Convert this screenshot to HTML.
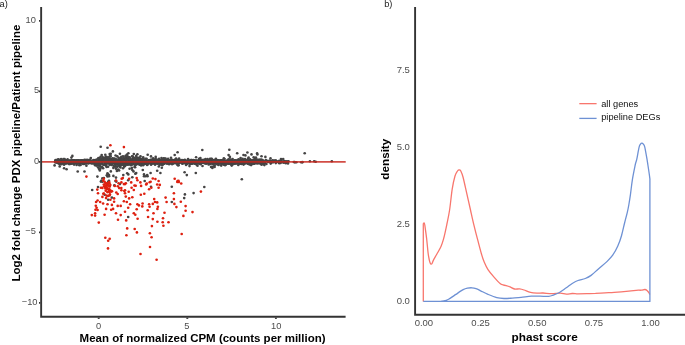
<!DOCTYPE html>
<html lang="en"><head><meta charset="utf-8"><title>Figure</title>
<style>html,body{margin:0;padding:0;background:#fff}body{width:685px;height:345px;overflow:hidden}svg{will-change:transform;opacity:.999}</style></head>
<body>
<svg width="685" height="345" viewBox="0 0 685 345" style="display:block;font-family:'Liberation Sans',Arial,sans-serif">
<rect width="685" height="345" fill="#fff"/>
<g fill="#454444"><circle cx="55.2" cy="161.8" r="1.32"/><circle cx="55.2" cy="160.9" r="1.32"/><circle cx="55.4" cy="162.2" r="1.32"/><circle cx="55.5" cy="161.3" r="1.32"/><circle cx="55.3" cy="162.3" r="1.32"/><circle cx="55.4" cy="161.8" r="1.32"/><circle cx="55.6" cy="160.1" r="1.32"/><circle cx="56.2" cy="161.3" r="1.32"/><circle cx="56.4" cy="161.6" r="1.32"/><circle cx="55.9" cy="161.8" r="1.32"/><circle cx="56.4" cy="161.2" r="1.32"/><circle cx="56.6" cy="161.6" r="1.32"/><circle cx="56.9" cy="162.5" r="1.32"/><circle cx="56.9" cy="161.5" r="1.32"/><circle cx="56.9" cy="160.5" r="1.32"/><circle cx="56.8" cy="162.4" r="1.32"/><circle cx="57.5" cy="160.8" r="1.32"/><circle cx="57.6" cy="160.7" r="1.32"/><circle cx="57.5" cy="162.2" r="1.32"/><circle cx="57.6" cy="159.5" r="1.32"/><circle cx="58.4" cy="163.0" r="1.32"/><circle cx="58.1" cy="162.4" r="1.32"/><circle cx="58.0" cy="161.5" r="1.32"/><circle cx="58.4" cy="161.5" r="1.32"/><circle cx="58.6" cy="163.4" r="1.32"/><circle cx="58.7" cy="160.6" r="1.32"/><circle cx="58.6" cy="159.3" r="1.32"/><circle cx="59.2" cy="163.3" r="1.32"/><circle cx="58.9" cy="160.5" r="1.32"/><circle cx="59.2" cy="161.5" r="1.32"/><circle cx="59.6" cy="162.2" r="1.32"/><circle cx="59.6" cy="160.6" r="1.32"/><circle cx="59.6" cy="163.4" r="1.32"/><circle cx="60.2" cy="160.7" r="1.32"/><circle cx="60.1" cy="162.6" r="1.32"/><circle cx="60.1" cy="162.5" r="1.32"/><circle cx="60.1" cy="163.9" r="1.32"/><circle cx="60.3" cy="162.0" r="1.32"/><circle cx="60.9" cy="161.9" r="1.32"/><circle cx="60.7" cy="163.0" r="1.32"/><circle cx="60.9" cy="161.4" r="1.32"/><circle cx="61.1" cy="162.7" r="1.32"/><circle cx="61.0" cy="162.8" r="1.32"/><circle cx="61.1" cy="159.0" r="1.32"/><circle cx="61.7" cy="162.9" r="1.32"/><circle cx="61.6" cy="161.0" r="1.32"/><circle cx="61.3" cy="161.4" r="1.32"/><circle cx="61.6" cy="164.3" r="1.32"/><circle cx="62.2" cy="160.9" r="1.32"/><circle cx="62.3" cy="161.3" r="1.32"/><circle cx="62.0" cy="162.6" r="1.32"/><circle cx="62.4" cy="160.5" r="1.32"/><circle cx="62.5" cy="161.8" r="1.32"/><circle cx="62.9" cy="161.8" r="1.32"/><circle cx="63.3" cy="160.2" r="1.32"/><circle cx="63.2" cy="161.3" r="1.32"/><circle cx="62.9" cy="162.9" r="1.32"/><circle cx="63.4" cy="162.5" r="1.32"/><circle cx="63.6" cy="163.1" r="1.32"/><circle cx="63.4" cy="162.3" r="1.32"/><circle cx="64.1" cy="162.6" r="1.32"/><circle cx="63.9" cy="162.6" r="1.32"/><circle cx="64.4" cy="160.7" r="1.32"/><circle cx="64.1" cy="164.7" r="1.32"/><circle cx="64.8" cy="160.7" r="1.32"/><circle cx="64.7" cy="163.4" r="1.32"/><circle cx="64.6" cy="161.4" r="1.32"/><circle cx="64.6" cy="159.0" r="1.32"/><circle cx="64.9" cy="162.6" r="1.32"/><circle cx="64.9" cy="162.7" r="1.32"/><circle cx="64.9" cy="163.4" r="1.32"/><circle cx="65.4" cy="160.3" r="1.32"/><circle cx="65.8" cy="161.9" r="1.32"/><circle cx="65.6" cy="161.3" r="1.32"/><circle cx="66.2" cy="160.4" r="1.32"/><circle cx="66.2" cy="163.2" r="1.32"/><circle cx="66.1" cy="162.9" r="1.32"/><circle cx="66.4" cy="163.1" r="1.32"/><circle cx="66.6" cy="160.7" r="1.32"/><circle cx="66.8" cy="163.1" r="1.32"/><circle cx="66.9" cy="162.8" r="1.32"/><circle cx="67.2" cy="160.7" r="1.32"/><circle cx="66.8" cy="160.6" r="1.32"/><circle cx="67.6" cy="162.0" r="1.32"/><circle cx="67.8" cy="162.8" r="1.32"/><circle cx="67.4" cy="160.4" r="1.32"/><circle cx="67.6" cy="159.3" r="1.32"/><circle cx="68.3" cy="162.1" r="1.32"/><circle cx="68.1" cy="163.2" r="1.32"/><circle cx="68.1" cy="162.2" r="1.32"/><circle cx="68.6" cy="162.5" r="1.32"/><circle cx="68.6" cy="162.0" r="1.32"/><circle cx="68.7" cy="163.3" r="1.32"/><circle cx="69.0" cy="163.3" r="1.32"/><circle cx="69.4" cy="162.0" r="1.32"/><circle cx="68.9" cy="163.0" r="1.32"/><circle cx="69.1" cy="164.1" r="1.32"/><circle cx="69.6" cy="162.4" r="1.32"/><circle cx="69.5" cy="160.9" r="1.32"/><circle cx="69.8" cy="160.6" r="1.32"/><circle cx="70.0" cy="162.3" r="1.32"/><circle cx="69.9" cy="161.0" r="1.32"/><circle cx="70.2" cy="161.7" r="1.32"/><circle cx="70.1" cy="163.9" r="1.32"/><circle cx="70.4" cy="162.4" r="1.32"/><circle cx="70.9" cy="162.5" r="1.32"/><circle cx="70.6" cy="161.5" r="1.32"/><circle cx="71.0" cy="160.5" r="1.32"/><circle cx="71.1" cy="161.3" r="1.32"/><circle cx="71.0" cy="162.5" r="1.32"/><circle cx="71.9" cy="161.2" r="1.32"/><circle cx="71.9" cy="160.6" r="1.32"/><circle cx="71.8" cy="160.9" r="1.32"/><circle cx="71.6" cy="163.8" r="1.32"/><circle cx="72.0" cy="162.8" r="1.32"/><circle cx="72.1" cy="160.6" r="1.32"/><circle cx="72.3" cy="163.2" r="1.32"/><circle cx="72.9" cy="160.7" r="1.32"/><circle cx="72.7" cy="162.1" r="1.32"/><circle cx="72.3" cy="160.5" r="1.32"/><circle cx="72.8" cy="161.6" r="1.32"/><circle cx="73.2" cy="163.3" r="1.32"/><circle cx="72.9" cy="162.9" r="1.32"/><circle cx="73.8" cy="160.4" r="1.32"/><circle cx="73.5" cy="161.7" r="1.32"/><circle cx="73.9" cy="162.0" r="1.32"/><circle cx="74.1" cy="160.6" r="1.32"/><circle cx="73.9" cy="161.0" r="1.32"/><circle cx="73.8" cy="160.7" r="1.32"/><circle cx="74.1" cy="164.6" r="1.32"/><circle cx="74.4" cy="162.0" r="1.32"/><circle cx="74.7" cy="161.7" r="1.32"/><circle cx="74.8" cy="161.1" r="1.32"/><circle cx="74.8" cy="160.3" r="1.32"/><circle cx="75.4" cy="161.9" r="1.32"/><circle cx="74.9" cy="161.9" r="1.32"/><circle cx="75.7" cy="162.4" r="1.32"/><circle cx="75.6" cy="162.4" r="1.32"/><circle cx="75.9" cy="163.2" r="1.32"/><circle cx="75.9" cy="160.9" r="1.32"/><circle cx="76.3" cy="160.8" r="1.32"/><circle cx="75.9" cy="162.6" r="1.32"/><circle cx="76.8" cy="163.5" r="1.32"/><circle cx="76.7" cy="160.2" r="1.32"/><circle cx="76.6" cy="163.1" r="1.32"/><circle cx="76.6" cy="164.9" r="1.32"/><circle cx="77.0" cy="162.4" r="1.32"/><circle cx="77.0" cy="161.0" r="1.32"/><circle cx="76.9" cy="161.7" r="1.32"/><circle cx="77.9" cy="161.0" r="1.32"/><circle cx="77.6" cy="163.5" r="1.32"/><circle cx="77.9" cy="161.0" r="1.32"/><circle cx="77.8" cy="161.4" r="1.32"/><circle cx="78.1" cy="161.4" r="1.32"/><circle cx="77.9" cy="161.9" r="1.32"/><circle cx="78.5" cy="160.2" r="1.32"/><circle cx="78.5" cy="160.4" r="1.32"/><circle cx="78.3" cy="160.3" r="1.32"/><circle cx="79.2" cy="160.9" r="1.32"/><circle cx="79.3" cy="162.0" r="1.32"/><circle cx="79.2" cy="162.4" r="1.32"/><circle cx="79.5" cy="161.5" r="1.32"/><circle cx="79.4" cy="163.5" r="1.32"/><circle cx="79.7" cy="162.6" r="1.32"/><circle cx="79.6" cy="164.7" r="1.32"/><circle cx="79.9" cy="162.9" r="1.32"/><circle cx="80.1" cy="161.9" r="1.32"/><circle cx="80.3" cy="163.0" r="1.32"/><circle cx="80.8" cy="162.1" r="1.32"/><circle cx="80.7" cy="162.5" r="1.32"/><circle cx="80.3" cy="160.9" r="1.32"/><circle cx="80.6" cy="165.0" r="1.32"/><circle cx="81.1" cy="161.4" r="1.32"/><circle cx="80.8" cy="160.3" r="1.32"/><circle cx="80.9" cy="162.0" r="1.32"/><circle cx="81.3" cy="161.7" r="1.32"/><circle cx="81.8" cy="163.3" r="1.32"/><circle cx="81.6" cy="160.4" r="1.32"/><circle cx="82.3" cy="161.8" r="1.32"/><circle cx="81.9" cy="163.0" r="1.32"/><circle cx="81.9" cy="162.7" r="1.32"/><circle cx="82.8" cy="161.7" r="1.32"/><circle cx="82.8" cy="160.4" r="1.32"/><circle cx="82.3" cy="161.1" r="1.32"/><circle cx="83.2" cy="160.8" r="1.32"/><circle cx="83.2" cy="161.3" r="1.32"/><circle cx="83.2" cy="162.5" r="1.32"/><circle cx="83.1" cy="163.9" r="1.32"/><circle cx="83.7" cy="161.0" r="1.32"/><circle cx="83.7" cy="162.5" r="1.32"/><circle cx="83.6" cy="161.1" r="1.32"/><circle cx="83.9" cy="161.7" r="1.32"/><circle cx="83.9" cy="163.2" r="1.32"/><circle cx="84.4" cy="163.5" r="1.32"/><circle cx="84.1" cy="163.9" r="1.32"/><circle cx="84.9" cy="161.9" r="1.32"/><circle cx="84.5" cy="163.6" r="1.32"/><circle cx="84.9" cy="163.3" r="1.32"/><circle cx="84.6" cy="159.7" r="1.32"/><circle cx="85.4" cy="161.9" r="1.32"/><circle cx="85.3" cy="160.6" r="1.32"/><circle cx="85.3" cy="161.9" r="1.32"/><circle cx="85.8" cy="160.9" r="1.32"/><circle cx="85.3" cy="161.8" r="1.32"/><circle cx="85.6" cy="160.1" r="1.32"/><circle cx="85.9" cy="161.2" r="1.32"/><circle cx="86.0" cy="161.3" r="1.32"/><circle cx="85.8" cy="163.0" r="1.32"/><circle cx="86.4" cy="163.0" r="1.32"/><circle cx="86.7" cy="163.3" r="1.32"/><circle cx="86.5" cy="163.3" r="1.32"/><circle cx="87.4" cy="161.5" r="1.32"/><circle cx="87.0" cy="162.2" r="1.32"/><circle cx="87.0" cy="161.6" r="1.32"/><circle cx="87.1" cy="159.8" r="1.32"/><circle cx="87.7" cy="162.4" r="1.32"/><circle cx="87.9" cy="160.6" r="1.32"/><circle cx="87.5" cy="161.6" r="1.32"/><circle cx="88.1" cy="162.9" r="1.32"/><circle cx="88.3" cy="160.2" r="1.32"/><circle cx="88.3" cy="161.5" r="1.32"/><circle cx="88.3" cy="160.8" r="1.32"/><circle cx="88.5" cy="163.4" r="1.32"/><circle cx="88.4" cy="162.3" r="1.32"/><circle cx="89.3" cy="161.8" r="1.32"/><circle cx="88.9" cy="162.0" r="1.32"/><circle cx="89.0" cy="161.5" r="1.32"/><circle cx="89.7" cy="162.7" r="1.32"/><circle cx="89.4" cy="161.5" r="1.32"/><circle cx="89.7" cy="161.8" r="1.32"/><circle cx="89.6" cy="159.8" r="1.32"/><circle cx="90.3" cy="161.9" r="1.32"/><circle cx="90.1" cy="162.0" r="1.32"/><circle cx="90.3" cy="161.3" r="1.32"/><circle cx="90.4" cy="162.0" r="1.32"/><circle cx="90.6" cy="160.7" r="1.32"/><circle cx="90.5" cy="161.2" r="1.32"/><circle cx="90.8" cy="160.8" r="1.32"/><circle cx="91.0" cy="163.2" r="1.32"/><circle cx="90.9" cy="162.7" r="1.32"/><circle cx="91.6" cy="162.7" r="1.32"/><circle cx="91.5" cy="162.1" r="1.32"/><circle cx="91.6" cy="162.5" r="1.32"/><circle cx="91.9" cy="163.1" r="1.32"/><circle cx="92.0" cy="163.3" r="1.32"/><circle cx="92.1" cy="162.4" r="1.32"/><circle cx="92.9" cy="163.0" r="1.32"/><circle cx="92.6" cy="160.5" r="1.32"/><circle cx="92.8" cy="162.8" r="1.32"/><circle cx="92.8" cy="161.8" r="1.32"/><circle cx="93.4" cy="163.4" r="1.32"/><circle cx="93.1" cy="161.9" r="1.32"/><circle cx="93.4" cy="162.9" r="1.32"/><circle cx="93.9" cy="160.6" r="1.32"/><circle cx="93.8" cy="160.4" r="1.32"/><circle cx="94.3" cy="163.1" r="1.32"/><circle cx="94.3" cy="160.4" r="1.32"/><circle cx="93.9" cy="160.1" r="1.32"/><circle cx="94.7" cy="160.2" r="1.32"/><circle cx="94.7" cy="163.5" r="1.32"/><circle cx="94.6" cy="162.0" r="1.32"/><circle cx="95.0" cy="160.4" r="1.32"/><circle cx="94.9" cy="163.5" r="1.32"/><circle cx="95.3" cy="161.0" r="1.32"/><circle cx="95.1" cy="165.2" r="1.32"/><circle cx="95.5" cy="160.9" r="1.32"/><circle cx="95.4" cy="163.3" r="1.32"/><circle cx="95.6" cy="162.0" r="1.32"/><circle cx="95.6" cy="165.0" r="1.32"/><circle cx="95.8" cy="161.0" r="1.32"/><circle cx="96.2" cy="161.8" r="1.32"/><circle cx="96.0" cy="161.5" r="1.32"/><circle cx="96.4" cy="164.0" r="1.32"/><circle cx="96.5" cy="159.5" r="1.32"/><circle cx="96.7" cy="161.4" r="1.32"/><circle cx="96.6" cy="165.6" r="1.32"/><circle cx="96.9" cy="161.9" r="1.32"/><circle cx="97.0" cy="164.5" r="1.32"/><circle cx="96.9" cy="163.6" r="1.32"/><circle cx="97.1" cy="165.0" r="1.32"/><circle cx="97.7" cy="162.6" r="1.32"/><circle cx="97.6" cy="164.2" r="1.32"/><circle cx="97.3" cy="164.3" r="1.32"/><circle cx="97.8" cy="164.6" r="1.32"/><circle cx="98.2" cy="158.8" r="1.32"/><circle cx="98.2" cy="161.3" r="1.32"/><circle cx="98.1" cy="167.2" r="1.32"/><circle cx="98.7" cy="164.3" r="1.32"/><circle cx="98.9" cy="165.0" r="1.32"/><circle cx="98.4" cy="160.8" r="1.32"/><circle cx="98.8" cy="163.4" r="1.32"/><circle cx="99.0" cy="162.9" r="1.32"/><circle cx="99.0" cy="161.0" r="1.32"/><circle cx="99.1" cy="158.3" r="1.32"/><circle cx="99.6" cy="159.2" r="1.32"/><circle cx="99.6" cy="164.3" r="1.32"/><circle cx="99.5" cy="163.5" r="1.32"/><circle cx="100.3" cy="160.6" r="1.32"/><circle cx="100.2" cy="159.2" r="1.32"/><circle cx="100.1" cy="159.9" r="1.32"/><circle cx="100.1" cy="166.1" r="1.32"/><circle cx="100.3" cy="164.4" r="1.32"/><circle cx="100.8" cy="161.3" r="1.32"/><circle cx="100.3" cy="163.6" r="1.32"/><circle cx="100.6" cy="156.7" r="1.32"/><circle cx="100.9" cy="159.0" r="1.32"/><circle cx="101.2" cy="159.0" r="1.32"/><circle cx="101.0" cy="161.0" r="1.32"/><circle cx="101.7" cy="158.9" r="1.32"/><circle cx="101.9" cy="163.1" r="1.32"/><circle cx="101.7" cy="160.5" r="1.32"/><circle cx="102.4" cy="163.8" r="1.32"/><circle cx="102.3" cy="159.1" r="1.32"/><circle cx="102.2" cy="159.3" r="1.32"/><circle cx="102.1" cy="167.0" r="1.32"/><circle cx="102.8" cy="164.5" r="1.32"/><circle cx="102.6" cy="159.5" r="1.32"/><circle cx="102.9" cy="158.7" r="1.32"/><circle cx="102.6" cy="157.1" r="1.32"/><circle cx="103.0" cy="160.7" r="1.32"/><circle cx="103.3" cy="161.0" r="1.32"/><circle cx="102.9" cy="159.1" r="1.32"/><circle cx="103.3" cy="160.2" r="1.32"/><circle cx="103.6" cy="158.9" r="1.32"/><circle cx="103.9" cy="160.7" r="1.32"/><circle cx="104.0" cy="165.0" r="1.32"/><circle cx="103.9" cy="159.2" r="1.32"/><circle cx="104.2" cy="161.8" r="1.32"/><circle cx="104.1" cy="158.1" r="1.32"/><circle cx="104.8" cy="161.6" r="1.32"/><circle cx="104.6" cy="160.1" r="1.32"/><circle cx="104.8" cy="163.6" r="1.32"/><circle cx="105.0" cy="160.5" r="1.32"/><circle cx="105.0" cy="160.4" r="1.32"/><circle cx="105.1" cy="160.3" r="1.32"/><circle cx="105.1" cy="158.1" r="1.32"/><circle cx="105.6" cy="164.3" r="1.32"/><circle cx="105.5" cy="160.7" r="1.32"/><circle cx="105.6" cy="165.0" r="1.32"/><circle cx="105.6" cy="157.0" r="1.32"/><circle cx="105.9" cy="165.0" r="1.32"/><circle cx="106.3" cy="161.7" r="1.32"/><circle cx="106.3" cy="164.0" r="1.32"/><circle cx="106.1" cy="165.8" r="1.32"/><circle cx="106.7" cy="159.0" r="1.32"/><circle cx="106.4" cy="164.0" r="1.32"/><circle cx="106.6" cy="159.1" r="1.32"/><circle cx="106.6" cy="167.0" r="1.32"/><circle cx="106.8" cy="162.9" r="1.32"/><circle cx="107.2" cy="162.7" r="1.32"/><circle cx="106.8" cy="160.9" r="1.32"/><circle cx="107.1" cy="158.0" r="1.32"/><circle cx="107.7" cy="160.3" r="1.32"/><circle cx="107.4" cy="162.8" r="1.32"/><circle cx="107.5" cy="158.7" r="1.32"/><circle cx="108.0" cy="159.8" r="1.32"/><circle cx="108.3" cy="159.9" r="1.32"/><circle cx="107.8" cy="162.2" r="1.32"/><circle cx="108.1" cy="166.7" r="1.32"/><circle cx="108.6" cy="159.6" r="1.32"/><circle cx="108.5" cy="162.8" r="1.32"/><circle cx="108.9" cy="160.4" r="1.32"/><circle cx="108.8" cy="161.3" r="1.32"/><circle cx="109.3" cy="163.4" r="1.32"/><circle cx="108.8" cy="161.3" r="1.32"/><circle cx="109.7" cy="163.8" r="1.32"/><circle cx="109.5" cy="161.1" r="1.32"/><circle cx="109.6" cy="164.7" r="1.32"/><circle cx="109.6" cy="156.6" r="1.32"/><circle cx="110.3" cy="161.2" r="1.32"/><circle cx="109.9" cy="161.6" r="1.32"/><circle cx="110.1" cy="158.7" r="1.32"/><circle cx="110.4" cy="164.5" r="1.32"/><circle cx="110.5" cy="162.6" r="1.32"/><circle cx="110.4" cy="161.9" r="1.32"/><circle cx="110.6" cy="156.4" r="1.32"/><circle cx="111.1" cy="159.3" r="1.32"/><circle cx="111.4" cy="163.8" r="1.32"/><circle cx="110.9" cy="159.9" r="1.32"/><circle cx="111.6" cy="164.9" r="1.32"/><circle cx="111.9" cy="159.0" r="1.32"/><circle cx="111.8" cy="161.1" r="1.32"/><circle cx="111.9" cy="164.0" r="1.32"/><circle cx="111.9" cy="163.7" r="1.32"/><circle cx="112.3" cy="161.2" r="1.32"/><circle cx="112.4" cy="159.8" r="1.32"/><circle cx="112.6" cy="161.2" r="1.32"/><circle cx="112.4" cy="161.1" r="1.32"/><circle cx="112.6" cy="158.3" r="1.32"/><circle cx="113.3" cy="162.3" r="1.32"/><circle cx="113.3" cy="158.9" r="1.32"/><circle cx="113.2" cy="159.4" r="1.32"/><circle cx="113.5" cy="162.7" r="1.32"/><circle cx="113.6" cy="161.3" r="1.32"/><circle cx="113.7" cy="161.4" r="1.32"/><circle cx="113.6" cy="165.7" r="1.32"/><circle cx="114.4" cy="158.6" r="1.32"/><circle cx="114.1" cy="161.6" r="1.32"/><circle cx="114.3" cy="162.6" r="1.32"/><circle cx="114.5" cy="163.9" r="1.32"/><circle cx="114.5" cy="159.0" r="1.32"/><circle cx="114.8" cy="161.0" r="1.32"/><circle cx="114.8" cy="162.9" r="1.32"/><circle cx="115.4" cy="159.5" r="1.32"/><circle cx="115.2" cy="160.6" r="1.32"/><circle cx="115.1" cy="166.7" r="1.32"/><circle cx="115.3" cy="163.7" r="1.32"/><circle cx="115.7" cy="159.0" r="1.32"/><circle cx="115.4" cy="163.1" r="1.32"/><circle cx="115.6" cy="165.9" r="1.32"/><circle cx="116.3" cy="163.9" r="1.32"/><circle cx="116.2" cy="163.1" r="1.32"/><circle cx="116.3" cy="160.0" r="1.32"/><circle cx="116.5" cy="160.2" r="1.32"/><circle cx="116.8" cy="162.6" r="1.32"/><circle cx="116.5" cy="161.6" r="1.32"/><circle cx="117.2" cy="161.7" r="1.32"/><circle cx="116.9" cy="162.6" r="1.32"/><circle cx="116.9" cy="161.0" r="1.32"/><circle cx="117.1" cy="166.8" r="1.32"/><circle cx="117.4" cy="164.4" r="1.32"/><circle cx="117.4" cy="163.7" r="1.32"/><circle cx="117.7" cy="162.0" r="1.32"/><circle cx="117.6" cy="166.5" r="1.32"/><circle cx="118.3" cy="162.4" r="1.32"/><circle cx="118.4" cy="159.3" r="1.32"/><circle cx="118.0" cy="162.7" r="1.32"/><circle cx="118.9" cy="160.3" r="1.32"/><circle cx="118.5" cy="162.4" r="1.32"/><circle cx="118.6" cy="163.6" r="1.32"/><circle cx="118.6" cy="157.7" r="1.32"/><circle cx="119.0" cy="162.0" r="1.32"/><circle cx="119.3" cy="164.9" r="1.32"/><circle cx="119.3" cy="164.6" r="1.32"/><circle cx="119.4" cy="163.5" r="1.32"/><circle cx="119.7" cy="160.5" r="1.32"/><circle cx="119.5" cy="161.3" r="1.32"/><circle cx="119.6" cy="165.8" r="1.32"/><circle cx="119.8" cy="162.8" r="1.32"/><circle cx="120.0" cy="158.6" r="1.32"/><circle cx="120.0" cy="159.3" r="1.32"/><circle cx="120.1" cy="166.6" r="1.32"/><circle cx="120.7" cy="159.9" r="1.32"/><circle cx="120.4" cy="161.7" r="1.32"/><circle cx="120.4" cy="164.7" r="1.32"/><circle cx="120.6" cy="158.3" r="1.32"/><circle cx="121.2" cy="159.5" r="1.32"/><circle cx="121.3" cy="160.3" r="1.32"/><circle cx="120.8" cy="164.9" r="1.32"/><circle cx="121.7" cy="164.4" r="1.32"/><circle cx="121.7" cy="162.4" r="1.32"/><circle cx="121.6" cy="162.0" r="1.32"/><circle cx="121.6" cy="158.3" r="1.32"/><circle cx="122.0" cy="162.1" r="1.32"/><circle cx="121.8" cy="160.1" r="1.32"/><circle cx="121.8" cy="163.7" r="1.32"/><circle cx="122.4" cy="164.7" r="1.32"/><circle cx="122.7" cy="159.9" r="1.32"/><circle cx="122.7" cy="161.9" r="1.32"/><circle cx="123.0" cy="159.7" r="1.32"/><circle cx="122.8" cy="160.5" r="1.32"/><circle cx="123.3" cy="164.4" r="1.32"/><circle cx="123.8" cy="158.6" r="1.32"/><circle cx="123.6" cy="163.5" r="1.32"/><circle cx="123.6" cy="163.4" r="1.32"/><circle cx="123.6" cy="157.8" r="1.32"/><circle cx="123.9" cy="162.8" r="1.32"/><circle cx="124.4" cy="164.4" r="1.32"/><circle cx="124.0" cy="164.7" r="1.32"/><circle cx="124.1" cy="166.8" r="1.32"/><circle cx="124.9" cy="164.6" r="1.32"/><circle cx="124.9" cy="160.5" r="1.32"/><circle cx="124.4" cy="164.4" r="1.32"/><circle cx="125.3" cy="159.7" r="1.32"/><circle cx="124.9" cy="164.1" r="1.32"/><circle cx="125.3" cy="159.6" r="1.32"/><circle cx="125.1" cy="166.0" r="1.32"/><circle cx="125.8" cy="160.1" r="1.32"/><circle cx="125.7" cy="162.7" r="1.32"/><circle cx="125.9" cy="162.9" r="1.32"/><circle cx="125.6" cy="156.5" r="1.32"/><circle cx="126.2" cy="161.4" r="1.32"/><circle cx="126.0" cy="162.3" r="1.32"/><circle cx="126.2" cy="160.0" r="1.32"/><circle cx="126.1" cy="158.1" r="1.32"/><circle cx="126.4" cy="158.8" r="1.32"/><circle cx="126.5" cy="164.7" r="1.32"/><circle cx="126.3" cy="159.5" r="1.32"/><circle cx="126.6" cy="156.8" r="1.32"/><circle cx="126.8" cy="163.4" r="1.32"/><circle cx="127.0" cy="162.4" r="1.32"/><circle cx="127.3" cy="163.9" r="1.32"/><circle cx="127.8" cy="159.0" r="1.32"/><circle cx="127.9" cy="164.6" r="1.32"/><circle cx="127.4" cy="159.3" r="1.32"/><circle cx="127.6" cy="156.3" r="1.32"/><circle cx="128.3" cy="164.5" r="1.32"/><circle cx="128.3" cy="159.1" r="1.32"/><circle cx="128.1" cy="162.7" r="1.32"/><circle cx="128.1" cy="157.7" r="1.32"/><circle cx="128.5" cy="160.8" r="1.32"/><circle cx="128.9" cy="160.9" r="1.32"/><circle cx="128.8" cy="158.9" r="1.32"/><circle cx="129.2" cy="163.6" r="1.32"/><circle cx="129.0" cy="161.7" r="1.32"/><circle cx="129.3" cy="163.5" r="1.32"/><circle cx="129.1" cy="157.6" r="1.32"/><circle cx="129.6" cy="163.2" r="1.32"/><circle cx="129.8" cy="160.0" r="1.32"/><circle cx="129.8" cy="159.2" r="1.32"/><circle cx="129.6" cy="157.2" r="1.32"/><circle cx="130.3" cy="160.5" r="1.32"/><circle cx="130.0" cy="158.9" r="1.32"/><circle cx="130.2" cy="159.2" r="1.32"/><circle cx="130.7" cy="164.9" r="1.32"/><circle cx="130.6" cy="164.9" r="1.32"/><circle cx="130.4" cy="162.4" r="1.32"/><circle cx="130.9" cy="164.7" r="1.32"/><circle cx="131.4" cy="159.7" r="1.32"/><circle cx="131.1" cy="163.6" r="1.32"/><circle cx="131.4" cy="162.3" r="1.32"/><circle cx="131.4" cy="160.7" r="1.32"/><circle cx="131.8" cy="164.7" r="1.32"/><circle cx="132.2" cy="161.3" r="1.32"/><circle cx="132.0" cy="161.0" r="1.32"/><circle cx="132.1" cy="161.4" r="1.32"/><circle cx="132.1" cy="156.3" r="1.32"/><circle cx="132.7" cy="159.4" r="1.32"/><circle cx="132.7" cy="163.1" r="1.32"/><circle cx="132.6" cy="158.8" r="1.32"/><circle cx="133.1" cy="164.3" r="1.32"/><circle cx="133.0" cy="162.2" r="1.32"/><circle cx="133.2" cy="161.6" r="1.32"/><circle cx="133.1" cy="158.1" r="1.32"/><circle cx="133.8" cy="161.6" r="1.32"/><circle cx="133.4" cy="160.1" r="1.32"/><circle cx="133.7" cy="160.5" r="1.32"/><circle cx="133.9" cy="159.6" r="1.32"/><circle cx="134.0" cy="160.2" r="1.32"/><circle cx="133.9" cy="162.0" r="1.32"/><circle cx="134.1" cy="157.8" r="1.32"/><circle cx="134.9" cy="164.8" r="1.32"/><circle cx="134.7" cy="159.6" r="1.32"/><circle cx="134.4" cy="159.8" r="1.32"/><circle cx="134.6" cy="167.0" r="1.32"/><circle cx="134.9" cy="161.4" r="1.32"/><circle cx="134.9" cy="162.8" r="1.32"/><circle cx="135.0" cy="159.9" r="1.32"/><circle cx="135.1" cy="167.2" r="1.32"/><circle cx="135.4" cy="161.4" r="1.32"/><circle cx="135.5" cy="165.0" r="1.32"/><circle cx="135.5" cy="158.7" r="1.32"/><circle cx="135.9" cy="158.6" r="1.32"/><circle cx="136.2" cy="164.2" r="1.32"/><circle cx="136.2" cy="162.4" r="1.32"/><circle cx="136.7" cy="163.0" r="1.32"/><circle cx="136.7" cy="164.3" r="1.32"/><circle cx="136.4" cy="162.4" r="1.32"/><circle cx="136.6" cy="157.4" r="1.32"/><circle cx="137.2" cy="160.6" r="1.32"/><circle cx="137.1" cy="159.2" r="1.32"/><circle cx="137.2" cy="163.7" r="1.32"/><circle cx="137.6" cy="160.2" r="1.32"/><circle cx="137.7" cy="161.6" r="1.32"/><circle cx="137.7" cy="161.3" r="1.32"/><circle cx="138.2" cy="159.8" r="1.32"/><circle cx="138.0" cy="163.7" r="1.32"/><circle cx="138.4" cy="161.8" r="1.32"/><circle cx="138.1" cy="158.0" r="1.32"/><circle cx="138.9" cy="163.7" r="1.32"/><circle cx="138.4" cy="162.0" r="1.32"/><circle cx="138.6" cy="162.3" r="1.32"/><circle cx="139.2" cy="161.9" r="1.32"/><circle cx="139.1" cy="163.9" r="1.32"/><circle cx="139.4" cy="161.3" r="1.32"/><circle cx="139.1" cy="157.7" r="1.32"/><circle cx="139.4" cy="163.4" r="1.32"/><circle cx="139.5" cy="164.8" r="1.32"/><circle cx="139.5" cy="159.2" r="1.32"/><circle cx="139.6" cy="158.4" r="1.32"/><circle cx="140.2" cy="164.3" r="1.32"/><circle cx="140.1" cy="162.9" r="1.32"/><circle cx="140.0" cy="159.5" r="1.32"/><circle cx="140.9" cy="164.5" r="1.32"/><circle cx="140.9" cy="164.7" r="1.32"/><circle cx="140.4" cy="161.6" r="1.32"/><circle cx="141.3" cy="159.4" r="1.32"/><circle cx="141.2" cy="160.1" r="1.32"/><circle cx="141.3" cy="163.1" r="1.32"/><circle cx="141.1" cy="165.5" r="1.32"/><circle cx="141.6" cy="160.7" r="1.32"/><circle cx="141.8" cy="159.8" r="1.32"/><circle cx="141.8" cy="161.1" r="1.32"/><circle cx="142.0" cy="161.2" r="1.32"/><circle cx="141.9" cy="161.5" r="1.32"/><circle cx="142.2" cy="159.2" r="1.32"/><circle cx="142.5" cy="160.5" r="1.32"/><circle cx="142.6" cy="161.7" r="1.32"/><circle cx="142.7" cy="162.6" r="1.32"/><circle cx="143.3" cy="164.0" r="1.32"/><circle cx="143.3" cy="159.7" r="1.32"/><circle cx="143.3" cy="163.9" r="1.32"/><circle cx="143.1" cy="165.3" r="1.32"/><circle cx="143.3" cy="159.5" r="1.32"/><circle cx="143.7" cy="164.0" r="1.32"/><circle cx="143.4" cy="160.7" r="1.32"/><circle cx="143.6" cy="159.0" r="1.32"/><circle cx="144.3" cy="161.6" r="1.32"/><circle cx="144.0" cy="160.5" r="1.32"/><circle cx="144.2" cy="162.0" r="1.32"/><circle cx="144.4" cy="164.0" r="1.32"/><circle cx="144.6" cy="163.6" r="1.32"/><circle cx="144.5" cy="162.5" r="1.32"/><circle cx="144.8" cy="160.6" r="1.32"/><circle cx="145.2" cy="163.3" r="1.32"/><circle cx="144.9" cy="160.2" r="1.32"/><circle cx="145.6" cy="163.2" r="1.32"/><circle cx="145.6" cy="162.1" r="1.32"/><circle cx="145.7" cy="163.5" r="1.32"/><circle cx="145.6" cy="158.9" r="1.32"/><circle cx="145.8" cy="163.3" r="1.32"/><circle cx="146.1" cy="163.2" r="1.32"/><circle cx="146.2" cy="162.1" r="1.32"/><circle cx="146.6" cy="161.4" r="1.32"/><circle cx="146.3" cy="163.7" r="1.32"/><circle cx="146.7" cy="162.4" r="1.32"/><circle cx="146.6" cy="158.8" r="1.32"/><circle cx="147.0" cy="163.6" r="1.32"/><circle cx="147.1" cy="163.8" r="1.32"/><circle cx="147.3" cy="161.8" r="1.32"/><circle cx="147.1" cy="164.9" r="1.32"/><circle cx="147.8" cy="161.2" r="1.32"/><circle cx="147.6" cy="161.3" r="1.32"/><circle cx="147.8" cy="162.0" r="1.32"/><circle cx="147.6" cy="164.5" r="1.32"/><circle cx="147.8" cy="160.9" r="1.32"/><circle cx="148.0" cy="161.0" r="1.32"/><circle cx="148.0" cy="161.8" r="1.32"/><circle cx="148.5" cy="163.3" r="1.32"/><circle cx="148.6" cy="160.7" r="1.32"/><circle cx="148.4" cy="160.3" r="1.32"/><circle cx="149.4" cy="160.4" r="1.32"/><circle cx="149.4" cy="160.2" r="1.32"/><circle cx="149.1" cy="161.4" r="1.32"/><circle cx="149.5" cy="162.1" r="1.32"/><circle cx="149.3" cy="160.3" r="1.32"/><circle cx="149.6" cy="163.1" r="1.32"/><circle cx="150.1" cy="160.1" r="1.32"/><circle cx="150.0" cy="162.0" r="1.32"/><circle cx="150.2" cy="160.4" r="1.32"/><circle cx="150.3" cy="163.3" r="1.32"/><circle cx="150.7" cy="160.0" r="1.32"/><circle cx="150.4" cy="162.3" r="1.32"/><circle cx="151.1" cy="163.3" r="1.32"/><circle cx="151.4" cy="160.3" r="1.32"/><circle cx="151.3" cy="159.9" r="1.32"/><circle cx="151.1" cy="164.8" r="1.32"/><circle cx="151.5" cy="160.9" r="1.32"/><circle cx="151.5" cy="161.5" r="1.32"/><circle cx="151.7" cy="161.6" r="1.32"/><circle cx="152.1" cy="160.1" r="1.32"/><circle cx="151.9" cy="160.0" r="1.32"/><circle cx="152.1" cy="163.1" r="1.32"/><circle cx="152.3" cy="161.6" r="1.32"/><circle cx="152.7" cy="161.4" r="1.32"/><circle cx="152.9" cy="163.6" r="1.32"/><circle cx="152.9" cy="161.5" r="1.32"/><circle cx="152.9" cy="162.4" r="1.32"/><circle cx="152.8" cy="160.5" r="1.32"/><circle cx="153.1" cy="158.4" r="1.32"/><circle cx="153.4" cy="163.3" r="1.32"/><circle cx="153.6" cy="160.3" r="1.32"/><circle cx="153.6" cy="161.0" r="1.32"/><circle cx="154.4" cy="162.8" r="1.32"/><circle cx="154.2" cy="161.3" r="1.32"/><circle cx="153.9" cy="162.6" r="1.32"/><circle cx="154.6" cy="161.0" r="1.32"/><circle cx="154.7" cy="161.8" r="1.32"/><circle cx="154.8" cy="163.4" r="1.32"/><circle cx="154.6" cy="159.7" r="1.32"/><circle cx="155.2" cy="159.9" r="1.32"/><circle cx="154.8" cy="163.1" r="1.32"/><circle cx="155.2" cy="161.1" r="1.32"/><circle cx="155.1" cy="164.8" r="1.32"/><circle cx="155.9" cy="161.1" r="1.32"/><circle cx="155.6" cy="162.8" r="1.32"/><circle cx="155.9" cy="160.5" r="1.32"/><circle cx="155.6" cy="158.8" r="1.32"/><circle cx="156.0" cy="161.5" r="1.32"/><circle cx="156.4" cy="163.0" r="1.32"/><circle cx="156.1" cy="163.0" r="1.32"/><circle cx="156.9" cy="160.1" r="1.32"/><circle cx="156.8" cy="162.7" r="1.32"/><circle cx="156.7" cy="161.2" r="1.32"/><circle cx="157.2" cy="163.2" r="1.32"/><circle cx="157.1" cy="161.1" r="1.32"/><circle cx="157.0" cy="163.4" r="1.32"/><circle cx="157.8" cy="162.3" r="1.32"/><circle cx="157.5" cy="163.1" r="1.32"/><circle cx="157.5" cy="159.9" r="1.32"/><circle cx="158.3" cy="162.2" r="1.32"/><circle cx="157.8" cy="163.4" r="1.32"/><circle cx="158.3" cy="163.2" r="1.32"/><circle cx="158.5" cy="162.1" r="1.32"/><circle cx="158.8" cy="163.2" r="1.32"/><circle cx="158.8" cy="162.6" r="1.32"/><circle cx="159.1" cy="160.2" r="1.32"/><circle cx="158.9" cy="163.0" r="1.32"/><circle cx="159.4" cy="162.8" r="1.32"/><circle cx="159.1" cy="158.8" r="1.32"/><circle cx="159.4" cy="161.7" r="1.32"/><circle cx="159.8" cy="160.9" r="1.32"/><circle cx="159.6" cy="163.0" r="1.32"/><circle cx="159.6" cy="165.0" r="1.32"/><circle cx="160.1" cy="160.8" r="1.32"/><circle cx="160.3" cy="163.4" r="1.32"/><circle cx="160.1" cy="161.9" r="1.32"/><circle cx="160.4" cy="160.6" r="1.32"/><circle cx="160.7" cy="160.6" r="1.32"/><circle cx="160.6" cy="161.3" r="1.32"/><circle cx="160.9" cy="161.9" r="1.32"/><circle cx="161.4" cy="160.1" r="1.32"/><circle cx="160.9" cy="161.4" r="1.32"/><circle cx="161.4" cy="163.0" r="1.32"/><circle cx="161.5" cy="162.2" r="1.32"/><circle cx="161.3" cy="161.9" r="1.32"/><circle cx="161.6" cy="164.8" r="1.32"/><circle cx="162.4" cy="160.7" r="1.32"/><circle cx="161.9" cy="161.0" r="1.32"/><circle cx="162.2" cy="161.6" r="1.32"/><circle cx="162.8" cy="160.4" r="1.32"/><circle cx="162.9" cy="161.2" r="1.32"/><circle cx="162.3" cy="161.4" r="1.32"/><circle cx="162.6" cy="165.1" r="1.32"/><circle cx="163.4" cy="161.7" r="1.32"/><circle cx="162.8" cy="163.5" r="1.32"/><circle cx="163.0" cy="162.2" r="1.32"/><circle cx="163.1" cy="159.3" r="1.32"/><circle cx="163.7" cy="162.1" r="1.32"/><circle cx="163.7" cy="163.6" r="1.32"/><circle cx="163.6" cy="161.4" r="1.32"/><circle cx="163.6" cy="158.4" r="1.32"/><circle cx="163.8" cy="160.8" r="1.32"/><circle cx="164.0" cy="160.9" r="1.32"/><circle cx="164.3" cy="163.4" r="1.32"/><circle cx="164.8" cy="160.1" r="1.32"/><circle cx="164.7" cy="162.7" r="1.32"/><circle cx="164.3" cy="163.8" r="1.32"/><circle cx="164.6" cy="158.5" r="1.32"/><circle cx="165.0" cy="162.5" r="1.32"/><circle cx="165.3" cy="162.2" r="1.32"/><circle cx="165.0" cy="160.3" r="1.32"/><circle cx="165.6" cy="160.4" r="1.32"/><circle cx="165.4" cy="160.5" r="1.32"/><circle cx="165.7" cy="160.4" r="1.32"/><circle cx="165.6" cy="158.6" r="1.32"/><circle cx="166.3" cy="160.5" r="1.32"/><circle cx="166.2" cy="160.2" r="1.32"/><circle cx="166.2" cy="161.4" r="1.32"/><circle cx="166.9" cy="163.6" r="1.32"/><circle cx="166.3" cy="161.4" r="1.32"/><circle cx="166.9" cy="160.2" r="1.32"/><circle cx="166.9" cy="160.8" r="1.32"/><circle cx="167.0" cy="161.3" r="1.32"/><circle cx="166.9" cy="162.8" r="1.32"/><circle cx="167.6" cy="163.4" r="1.32"/><circle cx="167.6" cy="160.5" r="1.32"/><circle cx="167.3" cy="160.9" r="1.32"/><circle cx="168.3" cy="161.1" r="1.32"/><circle cx="167.9" cy="160.9" r="1.32"/><circle cx="168.1" cy="161.7" r="1.32"/><circle cx="168.1" cy="158.9" r="1.32"/><circle cx="168.9" cy="163.0" r="1.32"/><circle cx="168.8" cy="162.1" r="1.32"/><circle cx="168.8" cy="160.4" r="1.32"/><circle cx="169.0" cy="161.6" r="1.32"/><circle cx="168.9" cy="160.8" r="1.32"/><circle cx="169.0" cy="161.4" r="1.32"/><circle cx="169.1" cy="164.2" r="1.32"/><circle cx="169.6" cy="162.4" r="1.32"/><circle cx="169.6" cy="161.9" r="1.32"/><circle cx="169.8" cy="161.6" r="1.32"/><circle cx="170.0" cy="161.0" r="1.32"/><circle cx="170.0" cy="160.1" r="1.32"/><circle cx="169.9" cy="161.0" r="1.32"/><circle cx="170.4" cy="161.9" r="1.32"/><circle cx="170.7" cy="160.6" r="1.32"/><circle cx="170.8" cy="163.1" r="1.32"/><circle cx="170.9" cy="162.9" r="1.32"/><circle cx="171.2" cy="160.4" r="1.32"/><circle cx="170.9" cy="162.4" r="1.32"/><circle cx="171.7" cy="159.9" r="1.32"/><circle cx="171.8" cy="161.9" r="1.32"/><circle cx="171.6" cy="163.5" r="1.32"/><circle cx="172.2" cy="161.0" r="1.32"/><circle cx="171.9" cy="163.6" r="1.32"/><circle cx="172.3" cy="161.5" r="1.32"/><circle cx="172.1" cy="164.3" r="1.32"/><circle cx="172.9" cy="162.1" r="1.32"/><circle cx="172.7" cy="160.0" r="1.32"/><circle cx="172.8" cy="162.1" r="1.32"/><circle cx="173.4" cy="163.5" r="1.32"/><circle cx="173.0" cy="160.2" r="1.32"/><circle cx="173.3" cy="160.9" r="1.32"/><circle cx="173.8" cy="162.9" r="1.32"/><circle cx="173.8" cy="162.1" r="1.32"/><circle cx="173.4" cy="161.0" r="1.32"/><circle cx="173.8" cy="161.6" r="1.32"/><circle cx="173.9" cy="163.0" r="1.32"/><circle cx="173.9" cy="160.9" r="1.32"/><circle cx="174.5" cy="160.6" r="1.32"/><circle cx="174.9" cy="162.1" r="1.32"/><circle cx="174.9" cy="160.0" r="1.32"/><circle cx="175.3" cy="160.9" r="1.32"/><circle cx="175.1" cy="162.4" r="1.32"/><circle cx="175.1" cy="160.8" r="1.32"/><circle cx="175.4" cy="160.3" r="1.32"/><circle cx="175.6" cy="161.0" r="1.32"/><circle cx="175.8" cy="162.2" r="1.32"/><circle cx="175.6" cy="159.2" r="1.32"/><circle cx="176.2" cy="160.4" r="1.32"/><circle cx="175.9" cy="163.3" r="1.32"/><circle cx="176.2" cy="162.1" r="1.32"/><circle cx="176.1" cy="158.5" r="1.32"/><circle cx="176.6" cy="161.4" r="1.32"/><circle cx="176.6" cy="163.2" r="1.32"/><circle cx="176.9" cy="161.4" r="1.32"/><circle cx="176.9" cy="161.2" r="1.32"/><circle cx="177.1" cy="161.2" r="1.32"/><circle cx="177.3" cy="163.7" r="1.32"/><circle cx="177.8" cy="163.1" r="1.32"/><circle cx="177.6" cy="160.1" r="1.32"/><circle cx="177.9" cy="163.6" r="1.32"/><circle cx="177.6" cy="164.9" r="1.32"/><circle cx="177.9" cy="160.0" r="1.32"/><circle cx="178.0" cy="160.6" r="1.32"/><circle cx="178.2" cy="160.7" r="1.32"/><circle cx="178.1" cy="165.2" r="1.32"/><circle cx="178.9" cy="162.9" r="1.32"/><circle cx="178.8" cy="162.4" r="1.32"/><circle cx="178.8" cy="163.3" r="1.32"/><circle cx="178.6" cy="165.2" r="1.32"/><circle cx="179.2" cy="162.3" r="1.32"/><circle cx="178.8" cy="163.0" r="1.32"/><circle cx="178.9" cy="160.3" r="1.32"/><circle cx="179.1" cy="158.5" r="1.32"/><circle cx="179.5" cy="161.0" r="1.32"/><circle cx="179.4" cy="162.4" r="1.32"/><circle cx="179.9" cy="162.2" r="1.32"/><circle cx="180.1" cy="161.0" r="1.32"/><circle cx="179.9" cy="162.0" r="1.32"/><circle cx="179.9" cy="160.4" r="1.32"/><circle cx="180.5" cy="161.5" r="1.32"/><circle cx="180.4" cy="160.9" r="1.32"/><circle cx="180.8" cy="162.0" r="1.32"/><circle cx="181.2" cy="162.1" r="1.32"/><circle cx="181.2" cy="160.7" r="1.32"/><circle cx="181.1" cy="161.7" r="1.32"/><circle cx="181.5" cy="161.7" r="1.32"/><circle cx="181.4" cy="160.9" r="1.32"/><circle cx="181.5" cy="161.9" r="1.32"/><circle cx="182.0" cy="160.0" r="1.32"/><circle cx="181.9" cy="163.2" r="1.32"/><circle cx="182.1" cy="162.1" r="1.32"/><circle cx="182.5" cy="163.7" r="1.32"/><circle cx="182.4" cy="162.9" r="1.32"/><circle cx="182.8" cy="160.2" r="1.32"/><circle cx="183.0" cy="160.2" r="1.32"/><circle cx="183.2" cy="161.6" r="1.32"/><circle cx="182.9" cy="160.3" r="1.32"/><circle cx="183.4" cy="162.8" r="1.32"/><circle cx="183.5" cy="161.2" r="1.32"/><circle cx="183.7" cy="162.5" r="1.32"/><circle cx="184.1" cy="163.1" r="1.32"/><circle cx="184.2" cy="162.8" r="1.32"/><circle cx="184.1" cy="162.9" r="1.32"/><circle cx="184.8" cy="162.7" r="1.32"/><circle cx="184.8" cy="160.4" r="1.32"/><circle cx="184.8" cy="159.9" r="1.32"/><circle cx="185.4" cy="161.8" r="1.32"/><circle cx="185.1" cy="162.1" r="1.32"/><circle cx="185.3" cy="162.9" r="1.32"/><circle cx="185.6" cy="161.4" r="1.32"/><circle cx="185.7" cy="161.7" r="1.32"/><circle cx="185.5" cy="161.1" r="1.32"/><circle cx="186.0" cy="161.4" r="1.32"/><circle cx="186.3" cy="163.0" r="1.32"/><circle cx="186.1" cy="161.8" r="1.32"/><circle cx="186.1" cy="165.0" r="1.32"/><circle cx="186.5" cy="161.6" r="1.32"/><circle cx="186.8" cy="160.8" r="1.32"/><circle cx="186.9" cy="161.2" r="1.32"/><circle cx="187.0" cy="160.9" r="1.32"/><circle cx="187.3" cy="163.7" r="1.32"/><circle cx="186.8" cy="163.6" r="1.32"/><circle cx="187.5" cy="163.4" r="1.32"/><circle cx="187.5" cy="162.0" r="1.32"/><circle cx="187.6" cy="162.3" r="1.32"/><circle cx="188.1" cy="162.7" r="1.32"/><circle cx="187.8" cy="161.7" r="1.32"/><circle cx="188.1" cy="162.5" r="1.32"/><circle cx="188.1" cy="159.0" r="1.32"/><circle cx="188.5" cy="160.3" r="1.32"/><circle cx="188.6" cy="161.5" r="1.32"/><circle cx="188.8" cy="162.1" r="1.32"/><circle cx="189.1" cy="161.8" r="1.32"/><circle cx="189.4" cy="162.3" r="1.32"/><circle cx="189.1" cy="161.2" r="1.32"/><circle cx="189.5" cy="160.6" r="1.32"/><circle cx="189.8" cy="163.7" r="1.32"/><circle cx="189.4" cy="161.9" r="1.32"/><circle cx="190.3" cy="162.6" r="1.32"/><circle cx="190.3" cy="163.7" r="1.32"/><circle cx="189.9" cy="161.5" r="1.32"/><circle cx="190.6" cy="161.9" r="1.32"/><circle cx="190.4" cy="160.7" r="1.32"/><circle cx="190.7" cy="162.3" r="1.32"/><circle cx="191.2" cy="163.7" r="1.32"/><circle cx="191.0" cy="160.1" r="1.32"/><circle cx="191.0" cy="163.0" r="1.32"/><circle cx="191.5" cy="160.0" r="1.32"/><circle cx="191.7" cy="163.2" r="1.32"/><circle cx="191.4" cy="162.5" r="1.32"/><circle cx="192.0" cy="162.1" r="1.32"/><circle cx="192.1" cy="162.4" r="1.32"/><circle cx="192.1" cy="163.8" r="1.32"/><circle cx="192.4" cy="160.4" r="1.32"/><circle cx="192.4" cy="162.8" r="1.32"/><circle cx="192.4" cy="160.3" r="1.32"/><circle cx="193.2" cy="163.1" r="1.32"/><circle cx="192.8" cy="163.0" r="1.32"/><circle cx="193.3" cy="160.0" r="1.32"/><circle cx="193.5" cy="162.7" r="1.32"/><circle cx="193.5" cy="160.6" r="1.32"/><circle cx="193.8" cy="160.3" r="1.32"/><circle cx="194.1" cy="161.3" r="1.32"/><circle cx="193.8" cy="161.4" r="1.32"/><circle cx="194.1" cy="163.3" r="1.32"/><circle cx="194.7" cy="161.6" r="1.32"/><circle cx="194.3" cy="160.9" r="1.32"/><circle cx="194.8" cy="163.5" r="1.32"/><circle cx="195.3" cy="163.4" r="1.32"/><circle cx="195.2" cy="161.1" r="1.32"/><circle cx="195.1" cy="163.6" r="1.32"/><circle cx="195.5" cy="160.9" r="1.32"/><circle cx="195.4" cy="162.7" r="1.32"/><circle cx="195.8" cy="161.1" r="1.32"/><circle cx="195.9" cy="163.0" r="1.32"/><circle cx="196.0" cy="160.6" r="1.32"/><circle cx="196.4" cy="160.7" r="1.32"/><circle cx="196.4" cy="162.1" r="1.32"/><circle cx="196.5" cy="162.0" r="1.32"/><circle cx="196.3" cy="161.5" r="1.32"/><circle cx="196.6" cy="164.7" r="1.32"/><circle cx="197.1" cy="161.4" r="1.32"/><circle cx="197.1" cy="161.3" r="1.32"/><circle cx="196.8" cy="161.0" r="1.32"/><circle cx="197.4" cy="160.9" r="1.32"/><circle cx="197.6" cy="160.7" r="1.32"/><circle cx="197.6" cy="162.9" r="1.32"/><circle cx="197.9" cy="163.0" r="1.32"/><circle cx="197.9" cy="161.3" r="1.32"/><circle cx="198.2" cy="161.5" r="1.32"/><circle cx="198.6" cy="161.1" r="1.32"/><circle cx="198.8" cy="160.7" r="1.32"/><circle cx="198.9" cy="162.5" r="1.32"/><circle cx="199.1" cy="162.2" r="1.32"/><circle cx="199.1" cy="163.7" r="1.32"/><circle cx="199.1" cy="161.5" r="1.32"/><circle cx="199.1" cy="158.9" r="1.32"/><circle cx="199.8" cy="160.3" r="1.32"/><circle cx="199.8" cy="162.7" r="1.32"/><circle cx="199.7" cy="160.1" r="1.32"/><circle cx="199.6" cy="159.2" r="1.32"/><circle cx="199.9" cy="160.3" r="1.32"/><circle cx="200.0" cy="163.2" r="1.32"/><circle cx="199.9" cy="162.5" r="1.32"/><circle cx="200.6" cy="161.3" r="1.32"/><circle cx="200.3" cy="161.1" r="1.32"/><circle cx="200.4" cy="161.1" r="1.32"/><circle cx="200.6" cy="164.3" r="1.32"/><circle cx="201.3" cy="161.5" r="1.32"/><circle cx="201.3" cy="162.9" r="1.32"/><circle cx="200.9" cy="163.2" r="1.32"/><circle cx="201.7" cy="160.1" r="1.32"/><circle cx="201.5" cy="162.5" r="1.32"/><circle cx="201.7" cy="161.5" r="1.32"/><circle cx="202.3" cy="160.9" r="1.32"/><circle cx="202.2" cy="161.3" r="1.32"/><circle cx="201.9" cy="160.6" r="1.32"/><circle cx="202.7" cy="162.7" r="1.32"/><circle cx="202.3" cy="160.1" r="1.32"/><circle cx="202.4" cy="160.6" r="1.32"/><circle cx="202.8" cy="161.4" r="1.32"/><circle cx="203.2" cy="161.1" r="1.32"/><circle cx="203.3" cy="160.6" r="1.32"/><circle cx="203.5" cy="162.7" r="1.32"/><circle cx="203.7" cy="161.6" r="1.32"/><circle cx="203.3" cy="161.3" r="1.32"/><circle cx="204.0" cy="162.9" r="1.32"/><circle cx="204.3" cy="160.1" r="1.32"/><circle cx="203.8" cy="162.3" r="1.32"/><circle cx="204.1" cy="159.7" r="1.32"/><circle cx="204.8" cy="161.2" r="1.32"/><circle cx="204.8" cy="161.3" r="1.32"/><circle cx="204.7" cy="161.5" r="1.32"/><circle cx="204.9" cy="162.3" r="1.32"/><circle cx="205.0" cy="162.0" r="1.32"/><circle cx="205.1" cy="163.5" r="1.32"/><circle cx="205.7" cy="161.9" r="1.32"/><circle cx="205.7" cy="163.1" r="1.32"/><circle cx="205.7" cy="161.9" r="1.32"/><circle cx="205.6" cy="159.1" r="1.32"/><circle cx="206.4" cy="160.7" r="1.32"/><circle cx="206.1" cy="163.1" r="1.32"/><circle cx="205.9" cy="160.6" r="1.32"/><circle cx="206.5" cy="160.9" r="1.32"/><circle cx="206.4" cy="163.6" r="1.32"/><circle cx="206.4" cy="161.3" r="1.32"/><circle cx="207.2" cy="160.5" r="1.32"/><circle cx="207.1" cy="161.8" r="1.32"/><circle cx="206.8" cy="162.6" r="1.32"/><circle cx="207.7" cy="160.5" r="1.32"/><circle cx="207.4" cy="162.6" r="1.32"/><circle cx="207.7" cy="162.6" r="1.32"/><circle cx="207.6" cy="159.1" r="1.32"/><circle cx="207.9" cy="162.8" r="1.32"/><circle cx="208.2" cy="162.5" r="1.32"/><circle cx="208.3" cy="161.7" r="1.32"/><circle cx="208.5" cy="160.4" r="1.32"/><circle cx="208.4" cy="161.3" r="1.32"/><circle cx="208.5" cy="160.2" r="1.32"/><circle cx="208.6" cy="164.5" r="1.32"/><circle cx="209.0" cy="160.4" r="1.32"/><circle cx="209.0" cy="161.7" r="1.32"/><circle cx="208.8" cy="160.6" r="1.32"/><circle cx="209.1" cy="164.0" r="1.32"/><circle cx="209.9" cy="162.7" r="1.32"/><circle cx="209.4" cy="162.1" r="1.32"/><circle cx="209.6" cy="161.8" r="1.32"/><circle cx="209.6" cy="163.9" r="1.32"/><circle cx="210.2" cy="163.4" r="1.32"/><circle cx="210.4" cy="162.3" r="1.32"/><circle cx="210.0" cy="162.4" r="1.32"/><circle cx="210.1" cy="158.8" r="1.32"/><circle cx="210.5" cy="160.1" r="1.32"/><circle cx="210.5" cy="160.5" r="1.32"/><circle cx="210.6" cy="163.6" r="1.32"/><circle cx="210.9" cy="162.5" r="1.32"/><circle cx="211.0" cy="162.7" r="1.32"/><circle cx="211.0" cy="162.3" r="1.32"/><circle cx="211.4" cy="161.3" r="1.32"/><circle cx="211.9" cy="160.5" r="1.32"/><circle cx="211.5" cy="163.1" r="1.32"/><circle cx="211.6" cy="159.0" r="1.32"/><circle cx="212.3" cy="162.3" r="1.32"/><circle cx="212.3" cy="162.6" r="1.32"/><circle cx="212.1" cy="163.5" r="1.32"/><circle cx="212.5" cy="160.6" r="1.32"/><circle cx="212.3" cy="162.2" r="1.32"/><circle cx="212.4" cy="162.6" r="1.32"/><circle cx="212.9" cy="163.6" r="1.32"/><circle cx="213.1" cy="160.1" r="1.32"/><circle cx="213.2" cy="160.7" r="1.32"/><circle cx="213.1" cy="164.1" r="1.32"/><circle cx="213.3" cy="160.2" r="1.32"/><circle cx="213.8" cy="162.6" r="1.32"/><circle cx="213.3" cy="160.2" r="1.32"/><circle cx="214.2" cy="160.6" r="1.32"/><circle cx="213.8" cy="161.4" r="1.32"/><circle cx="214.2" cy="163.0" r="1.32"/><circle cx="214.6" cy="161.7" r="1.32"/><circle cx="214.6" cy="161.9" r="1.32"/><circle cx="214.7" cy="162.0" r="1.32"/><circle cx="214.6" cy="165.2" r="1.32"/><circle cx="215.3" cy="162.3" r="1.32"/><circle cx="215.2" cy="160.2" r="1.32"/><circle cx="215.0" cy="162.3" r="1.32"/><circle cx="215.6" cy="163.5" r="1.32"/><circle cx="215.5" cy="162.4" r="1.32"/><circle cx="215.8" cy="161.3" r="1.32"/><circle cx="215.6" cy="159.5" r="1.32"/><circle cx="216.2" cy="162.7" r="1.32"/><circle cx="216.1" cy="160.5" r="1.32"/><circle cx="216.4" cy="162.1" r="1.32"/><circle cx="216.6" cy="160.9" r="1.32"/><circle cx="216.4" cy="161.0" r="1.32"/><circle cx="216.4" cy="163.6" r="1.32"/><circle cx="217.3" cy="160.8" r="1.32"/><circle cx="216.9" cy="162.4" r="1.32"/><circle cx="217.2" cy="162.5" r="1.32"/><circle cx="217.1" cy="164.2" r="1.32"/><circle cx="217.4" cy="162.1" r="1.32"/><circle cx="217.7" cy="161.9" r="1.32"/><circle cx="217.5" cy="160.3" r="1.32"/><circle cx="217.6" cy="164.1" r="1.32"/><circle cx="218.1" cy="161.9" r="1.32"/><circle cx="218.4" cy="163.1" r="1.32"/><circle cx="218.4" cy="162.3" r="1.32"/><circle cx="218.7" cy="161.7" r="1.32"/><circle cx="218.9" cy="162.0" r="1.32"/><circle cx="218.6" cy="160.7" r="1.32"/><circle cx="218.6" cy="164.9" r="1.32"/><circle cx="218.9" cy="160.2" r="1.32"/><circle cx="218.8" cy="161.4" r="1.32"/><circle cx="218.9" cy="162.2" r="1.32"/><circle cx="219.6" cy="162.6" r="1.32"/><circle cx="219.7" cy="163.3" r="1.32"/><circle cx="219.6" cy="163.2" r="1.32"/><circle cx="219.9" cy="163.2" r="1.32"/><circle cx="220.0" cy="162.8" r="1.32"/><circle cx="220.2" cy="162.8" r="1.32"/><circle cx="220.5" cy="160.4" r="1.32"/><circle cx="220.9" cy="162.7" r="1.32"/><circle cx="220.3" cy="162.7" r="1.32"/><circle cx="221.1" cy="160.4" r="1.32"/><circle cx="220.9" cy="163.0" r="1.32"/><circle cx="221.2" cy="163.4" r="1.32"/><circle cx="221.6" cy="160.7" r="1.32"/><circle cx="221.6" cy="163.1" r="1.32"/><circle cx="221.3" cy="160.4" r="1.32"/><circle cx="221.6" cy="164.1" r="1.32"/><circle cx="222.0" cy="162.1" r="1.32"/><circle cx="222.0" cy="162.5" r="1.32"/><circle cx="222.3" cy="160.5" r="1.32"/><circle cx="222.8" cy="162.6" r="1.32"/><circle cx="222.3" cy="163.5" r="1.32"/><circle cx="222.4" cy="161.3" r="1.32"/><circle cx="223.3" cy="163.2" r="1.32"/><circle cx="222.9" cy="160.1" r="1.32"/><circle cx="223.2" cy="163.0" r="1.32"/><circle cx="223.4" cy="161.8" r="1.32"/><circle cx="223.5" cy="163.1" r="1.32"/><circle cx="223.7" cy="163.2" r="1.32"/><circle cx="223.6" cy="164.6" r="1.32"/><circle cx="223.9" cy="161.2" r="1.32"/><circle cx="223.9" cy="162.3" r="1.32"/><circle cx="224.2" cy="163.0" r="1.32"/><circle cx="224.9" cy="161.7" r="1.32"/><circle cx="224.5" cy="161.2" r="1.32"/><circle cx="224.4" cy="161.8" r="1.32"/><circle cx="224.6" cy="159.0" r="1.32"/><circle cx="224.9" cy="162.7" r="1.32"/><circle cx="224.8" cy="161.4" r="1.32"/><circle cx="225.0" cy="163.7" r="1.32"/><circle cx="225.4" cy="162.2" r="1.32"/><circle cx="225.8" cy="162.6" r="1.32"/><circle cx="225.4" cy="163.3" r="1.32"/><circle cx="225.6" cy="164.7" r="1.32"/><circle cx="226.0" cy="162.3" r="1.32"/><circle cx="226.3" cy="161.0" r="1.32"/><circle cx="226.4" cy="163.2" r="1.32"/><circle cx="226.8" cy="161.1" r="1.32"/><circle cx="226.6" cy="162.7" r="1.32"/><circle cx="226.5" cy="162.3" r="1.32"/><circle cx="226.8" cy="161.5" r="1.32"/><circle cx="227.0" cy="161.2" r="1.32"/><circle cx="227.1" cy="163.7" r="1.32"/><circle cx="227.4" cy="160.9" r="1.32"/><circle cx="227.4" cy="161.3" r="1.32"/><circle cx="227.8" cy="160.0" r="1.32"/><circle cx="228.1" cy="161.6" r="1.32"/><circle cx="227.9" cy="161.1" r="1.32"/><circle cx="228.0" cy="160.3" r="1.32"/><circle cx="228.6" cy="162.7" r="1.32"/><circle cx="228.5" cy="163.5" r="1.32"/><circle cx="228.7" cy="163.4" r="1.32"/><circle cx="228.6" cy="159.4" r="1.32"/><circle cx="229.1" cy="161.3" r="1.32"/><circle cx="229.2" cy="163.6" r="1.32"/><circle cx="229.4" cy="162.7" r="1.32"/><circle cx="229.4" cy="161.2" r="1.32"/><circle cx="229.6" cy="163.3" r="1.32"/><circle cx="229.7" cy="162.8" r="1.32"/><circle cx="229.6" cy="159.5" r="1.32"/><circle cx="229.9" cy="161.5" r="1.32"/><circle cx="230.3" cy="162.2" r="1.32"/><circle cx="229.9" cy="162.4" r="1.32"/><circle cx="230.7" cy="163.6" r="1.32"/><circle cx="230.8" cy="160.3" r="1.32"/><circle cx="230.5" cy="163.2" r="1.32"/><circle cx="230.6" cy="159.5" r="1.32"/><circle cx="230.8" cy="162.4" r="1.32"/><circle cx="230.8" cy="161.2" r="1.32"/><circle cx="231.3" cy="161.2" r="1.32"/><circle cx="231.1" cy="164.4" r="1.32"/><circle cx="231.5" cy="162.5" r="1.32"/><circle cx="231.5" cy="160.2" r="1.32"/><circle cx="231.7" cy="160.2" r="1.32"/><circle cx="232.2" cy="161.8" r="1.32"/><circle cx="232.1" cy="161.0" r="1.32"/><circle cx="232.4" cy="160.1" r="1.32"/><circle cx="232.3" cy="163.6" r="1.32"/><circle cx="232.7" cy="162.3" r="1.32"/><circle cx="232.4" cy="161.2" r="1.32"/><circle cx="232.6" cy="159.1" r="1.32"/><circle cx="233.0" cy="163.1" r="1.32"/><circle cx="233.0" cy="161.3" r="1.32"/><circle cx="233.3" cy="162.5" r="1.32"/><circle cx="233.1" cy="164.2" r="1.32"/><circle cx="233.8" cy="162.3" r="1.32"/><circle cx="233.3" cy="161.8" r="1.32"/><circle cx="233.7" cy="162.4" r="1.32"/><circle cx="234.1" cy="162.6" r="1.32"/><circle cx="234.1" cy="161.3" r="1.32"/><circle cx="234.0" cy="161.0" r="1.32"/><circle cx="234.8" cy="160.4" r="1.32"/><circle cx="234.4" cy="163.6" r="1.32"/><circle cx="234.5" cy="162.3" r="1.32"/><circle cx="235.2" cy="163.4" r="1.32"/><circle cx="235.1" cy="160.5" r="1.32"/><circle cx="235.3" cy="160.8" r="1.32"/><circle cx="235.7" cy="162.2" r="1.32"/><circle cx="235.8" cy="163.3" r="1.32"/><circle cx="235.8" cy="163.2" r="1.32"/><circle cx="236.2" cy="161.3" r="1.32"/><circle cx="236.3" cy="161.6" r="1.32"/><circle cx="236.3" cy="160.8" r="1.32"/><circle cx="236.4" cy="161.4" r="1.32"/><circle cx="236.3" cy="162.9" r="1.32"/><circle cx="236.3" cy="162.4" r="1.32"/><circle cx="237.2" cy="163.4" r="1.32"/><circle cx="236.9" cy="161.3" r="1.32"/><circle cx="237.3" cy="161.4" r="1.32"/><circle cx="237.8" cy="162.4" r="1.32"/><circle cx="237.3" cy="160.1" r="1.32"/><circle cx="237.4" cy="162.6" r="1.32"/><circle cx="238.1" cy="161.2" r="1.32"/><circle cx="238.3" cy="161.0" r="1.32"/><circle cx="238.4" cy="161.8" r="1.32"/><circle cx="238.9" cy="161.8" r="1.32"/><circle cx="238.9" cy="162.8" r="1.32"/><circle cx="238.5" cy="160.5" r="1.32"/><circle cx="238.6" cy="159.2" r="1.32"/><circle cx="238.9" cy="163.3" r="1.32"/><circle cx="239.2" cy="162.5" r="1.32"/><circle cx="239.1" cy="161.7" r="1.32"/><circle cx="239.8" cy="160.8" r="1.32"/><circle cx="239.8" cy="161.3" r="1.32"/><circle cx="239.4" cy="163.2" r="1.32"/><circle cx="240.0" cy="163.7" r="1.32"/><circle cx="239.9" cy="160.1" r="1.32"/><circle cx="239.8" cy="163.6" r="1.32"/><circle cx="240.7" cy="160.6" r="1.32"/><circle cx="240.4" cy="160.4" r="1.32"/><circle cx="240.4" cy="162.5" r="1.32"/><circle cx="241.2" cy="163.4" r="1.32"/><circle cx="241.4" cy="163.2" r="1.32"/><circle cx="240.9" cy="160.2" r="1.32"/><circle cx="241.3" cy="162.5" r="1.32"/><circle cx="241.4" cy="161.9" r="1.32"/><circle cx="241.4" cy="161.6" r="1.32"/><circle cx="241.6" cy="164.0" r="1.32"/><circle cx="242.4" cy="160.4" r="1.32"/><circle cx="242.1" cy="163.6" r="1.32"/><circle cx="241.9" cy="160.0" r="1.32"/><circle cx="242.6" cy="162.3" r="1.32"/><circle cx="242.6" cy="163.6" r="1.32"/><circle cx="242.9" cy="163.1" r="1.32"/><circle cx="242.6" cy="158.7" r="1.32"/><circle cx="242.9" cy="163.6" r="1.32"/><circle cx="243.2" cy="160.3" r="1.32"/><circle cx="243.0" cy="160.1" r="1.32"/><circle cx="243.3" cy="160.7" r="1.32"/><circle cx="243.9" cy="162.9" r="1.32"/><circle cx="243.5" cy="161.0" r="1.32"/><circle cx="243.6" cy="164.6" r="1.32"/><circle cx="244.2" cy="162.0" r="1.32"/><circle cx="244.3" cy="163.6" r="1.32"/><circle cx="244.0" cy="162.6" r="1.32"/><circle cx="244.9" cy="161.6" r="1.32"/><circle cx="244.5" cy="161.4" r="1.32"/><circle cx="244.4" cy="161.5" r="1.32"/><circle cx="245.2" cy="160.1" r="1.32"/><circle cx="245.0" cy="163.4" r="1.32"/><circle cx="245.0" cy="162.3" r="1.32"/><circle cx="245.1" cy="159.0" r="1.32"/><circle cx="245.7" cy="160.4" r="1.32"/><circle cx="245.7" cy="160.2" r="1.32"/><circle cx="245.6" cy="161.5" r="1.32"/><circle cx="246.2" cy="161.6" r="1.32"/><circle cx="246.1" cy="161.7" r="1.32"/><circle cx="246.2" cy="161.8" r="1.32"/><circle cx="246.6" cy="161.3" r="1.32"/><circle cx="246.8" cy="161.4" r="1.32"/><circle cx="246.8" cy="162.9" r="1.32"/><circle cx="247.4" cy="160.3" r="1.32"/><circle cx="247.2" cy="161.0" r="1.32"/><circle cx="246.8" cy="163.0" r="1.32"/><circle cx="247.9" cy="162.4" r="1.32"/><circle cx="247.5" cy="162.8" r="1.32"/><circle cx="247.8" cy="163.1" r="1.32"/><circle cx="248.1" cy="162.2" r="1.32"/><circle cx="247.8" cy="163.7" r="1.32"/><circle cx="248.0" cy="162.8" r="1.32"/><circle cx="248.1" cy="158.8" r="1.32"/><circle cx="248.4" cy="160.9" r="1.32"/><circle cx="248.6" cy="163.0" r="1.32"/><circle cx="248.8" cy="162.4" r="1.32"/><circle cx="248.8" cy="163.2" r="1.32"/><circle cx="249.3" cy="161.4" r="1.32"/><circle cx="248.9" cy="163.0" r="1.32"/><circle cx="249.1" cy="164.3" r="1.32"/><circle cx="249.7" cy="161.4" r="1.32"/><circle cx="249.5" cy="161.9" r="1.32"/><circle cx="249.5" cy="162.4" r="1.32"/><circle cx="249.9" cy="161.7" r="1.32"/><circle cx="250.2" cy="162.3" r="1.32"/><circle cx="250.1" cy="160.7" r="1.32"/><circle cx="250.1" cy="159.4" r="1.32"/><circle cx="250.4" cy="161.9" r="1.32"/><circle cx="250.5" cy="161.4" r="1.32"/><circle cx="250.3" cy="161.4" r="1.32"/><circle cx="250.6" cy="164.0" r="1.32"/><circle cx="251.2" cy="160.6" r="1.32"/><circle cx="251.0" cy="161.0" r="1.32"/><circle cx="251.3" cy="160.8" r="1.32"/><circle cx="251.1" cy="165.1" r="1.32"/><circle cx="251.6" cy="160.7" r="1.32"/><circle cx="251.7" cy="163.0" r="1.32"/><circle cx="251.3" cy="161.3" r="1.32"/><circle cx="252.2" cy="161.3" r="1.32"/><circle cx="252.0" cy="161.0" r="1.32"/><circle cx="252.3" cy="162.5" r="1.32"/><circle cx="252.6" cy="161.4" r="1.32"/><circle cx="252.4" cy="163.7" r="1.32"/><circle cx="252.7" cy="163.9" r="1.32"/><circle cx="253.0" cy="162.6" r="1.32"/><circle cx="253.3" cy="160.0" r="1.32"/><circle cx="253.1" cy="161.3" r="1.32"/><circle cx="253.8" cy="163.7" r="1.32"/><circle cx="253.7" cy="159.7" r="1.32"/><circle cx="253.6" cy="161.7" r="1.32"/><circle cx="254.1" cy="161.5" r="1.32"/><circle cx="254.1" cy="163.6" r="1.32"/><circle cx="254.1" cy="161.8" r="1.32"/><circle cx="254.7" cy="162.6" r="1.32"/><circle cx="254.3" cy="161.4" r="1.32"/><circle cx="254.6" cy="162.7" r="1.32"/><circle cx="254.9" cy="163.1" r="1.32"/><circle cx="254.8" cy="160.6" r="1.32"/><circle cx="254.9" cy="163.3" r="1.32"/><circle cx="255.1" cy="158.6" r="1.32"/><circle cx="255.7" cy="159.8" r="1.32"/><circle cx="255.6" cy="162.8" r="1.32"/><circle cx="255.7" cy="159.8" r="1.32"/><circle cx="256.4" cy="162.2" r="1.32"/><circle cx="256.3" cy="163.3" r="1.32"/><circle cx="256.0" cy="160.2" r="1.32"/><circle cx="256.9" cy="159.6" r="1.32"/><circle cx="256.5" cy="160.8" r="1.32"/><circle cx="256.5" cy="161.0" r="1.32"/><circle cx="257.1" cy="162.1" r="1.32"/><circle cx="256.8" cy="161.5" r="1.32"/><circle cx="257.3" cy="160.9" r="1.32"/><circle cx="257.5" cy="163.5" r="1.32"/><circle cx="257.3" cy="160.5" r="1.32"/><circle cx="257.5" cy="162.0" r="1.32"/><circle cx="258.2" cy="161.8" r="1.32"/><circle cx="258.3" cy="161.2" r="1.32"/><circle cx="258.4" cy="160.5" r="1.32"/><circle cx="258.5" cy="159.8" r="1.32"/><circle cx="258.5" cy="162.0" r="1.32"/><circle cx="258.5" cy="162.2" r="1.32"/><circle cx="259.0" cy="163.2" r="1.32"/><circle cx="259.3" cy="162.8" r="1.32"/><circle cx="259.1" cy="162.3" r="1.32"/><circle cx="259.8" cy="161.6" r="1.32"/><circle cx="259.6" cy="159.8" r="1.32"/><circle cx="259.3" cy="162.5" r="1.32"/><circle cx="260.2" cy="159.8" r="1.32"/><circle cx="260.4" cy="160.3" r="1.32"/><circle cx="260.3" cy="162.1" r="1.32"/><circle cx="260.7" cy="162.7" r="1.32"/><circle cx="260.4" cy="160.9" r="1.32"/><circle cx="260.4" cy="163.4" r="1.32"/><circle cx="260.9" cy="160.5" r="1.32"/><circle cx="261.3" cy="159.9" r="1.32"/><circle cx="261.0" cy="164.0" r="1.32"/><circle cx="261.8" cy="160.7" r="1.32"/><circle cx="261.4" cy="162.7" r="1.32"/><circle cx="261.7" cy="159.8" r="1.32"/><circle cx="261.6" cy="164.8" r="1.32"/><circle cx="262.0" cy="162.2" r="1.32"/><circle cx="262.8" cy="160.2" r="1.32"/><circle cx="262.9" cy="163.5" r="1.32"/><circle cx="263.5" cy="164.1" r="1.32"/><circle cx="264.2" cy="161.3" r="1.32"/><circle cx="264.4" cy="162.1" r="1.32"/><circle cx="265.1" cy="162.9" r="1.32"/><circle cx="265.8" cy="160.0" r="1.32"/><circle cx="266.4" cy="163.9" r="1.32"/><circle cx="267.0" cy="160.9" r="1.32"/><circle cx="267.9" cy="161.8" r="1.32"/><circle cx="268.3" cy="161.8" r="1.32"/><circle cx="268.4" cy="162.0" r="1.32"/><circle cx="269.3" cy="160.9" r="1.32"/><circle cx="269.9" cy="160.7" r="1.32"/><circle cx="270.4" cy="162.2" r="1.32"/><circle cx="270.7" cy="163.6" r="1.32"/><circle cx="271.1" cy="161.2" r="1.32"/><circle cx="271.4" cy="162.8" r="1.32"/><circle cx="271.8" cy="161.1" r="1.32"/><circle cx="272.6" cy="160.3" r="1.32"/><circle cx="273.1" cy="162.2" r="1.32"/><circle cx="273.4" cy="161.9" r="1.32"/><circle cx="274.1" cy="160.5" r="1.32"/><circle cx="274.7" cy="161.4" r="1.32"/><circle cx="275.4" cy="160.6" r="1.32"/><circle cx="275.8" cy="163.1" r="1.32"/><circle cx="275.9" cy="160.6" r="1.32"/><circle cx="277.1" cy="161.8" r="1.32"/><circle cx="277.4" cy="161.7" r="1.32"/><circle cx="278.0" cy="161.9" r="1.32"/><circle cx="278.4" cy="161.5" r="1.32"/><circle cx="279.3" cy="160.9" r="1.32"/><circle cx="279.3" cy="163.2" r="1.32"/><circle cx="280.6" cy="162.9" r="1.32"/><circle cx="281.3" cy="160.9" r="1.32"/><circle cx="281.3" cy="161.0" r="1.32"/><circle cx="282.0" cy="161.9" r="1.32"/><circle cx="282.9" cy="162.1" r="1.32"/><circle cx="283.7" cy="162.8" r="1.32"/><circle cx="284.2" cy="161.0" r="1.32"/><circle cx="285.2" cy="162.2" r="1.32"/><circle cx="285.8" cy="161.3" r="1.32"/><circle cx="285.8" cy="163.2" r="1.32"/><circle cx="286.9" cy="161.6" r="1.32"/><circle cx="287.7" cy="162.4" r="1.32"/><circle cx="287.9" cy="161.5" r="1.32"/><circle cx="288.5" cy="161.3" r="1.32"/><circle cx="293.8" cy="162.0" r="1.32"/><circle cx="294.5" cy="162.1" r="1.32"/><circle cx="295.2" cy="162.3" r="1.32"/><circle cx="296.4" cy="162.2" r="1.32"/><circle cx="301.1" cy="162.2" r="1.32"/><circle cx="302.3" cy="162.2" r="1.32"/><circle cx="302.4" cy="162.1" r="1.32"/><circle cx="72.4" cy="155.9" r="1.32"/><circle cx="71.4" cy="157.6" r="1.32"/><circle cx="90.8" cy="158.1" r="1.32"/><circle cx="63.4" cy="159.1" r="1.32"/><circle cx="54.6" cy="165.4" r="1.32"/><circle cx="59.7" cy="166.4" r="1.32"/><circle cx="64.1" cy="168.3" r="1.32"/><circle cx="66.6" cy="169.3" r="1.32"/><circle cx="77.7" cy="171.5" r="1.32"/><circle cx="84.5" cy="171.5" r="1.32"/><circle cx="97.4" cy="176.6" r="1.32"/><circle cx="79.4" cy="165.2" r="1.32"/><circle cx="86.4" cy="165.7" r="1.32"/><circle cx="99.9" cy="169.3" r="1.32"/><circle cx="100.7" cy="146.7" r="1.32"/><circle cx="107.5" cy="147.7" r="1.32"/><circle cx="112.9" cy="151.4" r="1.32"/><circle cx="128.4" cy="153.2" r="1.32"/><circle cx="119.9" cy="153.7" r="1.32"/><circle cx="101.7" cy="155.1" r="1.32"/><circle cx="105.3" cy="154.7" r="1.32"/><circle cx="109.7" cy="154.0" r="1.32"/><circle cx="133.8" cy="154.0" r="1.32"/><circle cx="137.4" cy="154.3" r="1.32"/><circle cx="147.7" cy="154.7" r="1.32"/><circle cx="177.6" cy="152.2" r="1.32"/><circle cx="174.7" cy="155.0" r="1.32"/><circle cx="155.7" cy="156.9" r="1.32"/><circle cx="161.5" cy="158.1" r="1.32"/><circle cx="103.1" cy="168.3" r="1.32"/><circle cx="107.5" cy="173.2" r="1.32"/><circle cx="109.0" cy="175.1" r="1.32"/><circle cx="103.9" cy="178.1" r="1.32"/><circle cx="102.4" cy="181.7" r="1.32"/><circle cx="113.4" cy="175.9" r="1.32"/><circle cx="116.0" cy="177.6" r="1.32"/><circle cx="127.2" cy="173.2" r="1.32"/><circle cx="123.3" cy="175.1" r="1.32"/><circle cx="132.3" cy="170.0" r="1.32"/><circle cx="135.3" cy="173.7" r="1.32"/><circle cx="142.8" cy="170.0" r="1.32"/><circle cx="144.0" cy="174.4" r="1.32"/><circle cx="147.2" cy="175.1" r="1.32"/><circle cx="150.6" cy="173.0" r="1.32"/><circle cx="157.2" cy="170.8" r="1.32"/><circle cx="160.4" cy="173.0" r="1.32"/><circle cx="161.8" cy="167.8" r="1.32"/><circle cx="184.6" cy="172.2" r="1.32"/><circle cx="186.8" cy="175.1" r="1.32"/><circle cx="132.3" cy="177.3" r="1.32"/><circle cx="128.2" cy="180.3" r="1.32"/><circle cx="144.7" cy="181.0" r="1.32"/><circle cx="115.5" cy="181.0" r="1.32"/><circle cx="92.2" cy="190.0" r="1.32"/><circle cx="98.0" cy="187.0" r="1.32"/><circle cx="100.9" cy="181.6" r="1.32"/><circle cx="102.4" cy="178.2" r="1.32"/><circle cx="107.5" cy="176.5" r="1.32"/><circle cx="109.0" cy="180.8" r="1.32"/><circle cx="116.3" cy="181.6" r="1.32"/><circle cx="119.9" cy="184.1" r="1.32"/><circle cx="145.5" cy="176.2" r="1.32"/><circle cx="111.9" cy="197.6" r="1.32"/><circle cx="108.2" cy="199.8" r="1.32"/><circle cx="104.6" cy="194.7" r="1.32"/><circle cx="171.8" cy="186.7" r="1.32"/><circle cx="171.8" cy="202.0" r="1.32"/><circle cx="184.9" cy="194.4" r="1.32"/><circle cx="184.2" cy="198.1" r="1.32"/><circle cx="128.2" cy="217.0" r="1.32"/><circle cx="202.3" cy="150.0" r="1.32"/><circle cx="229.3" cy="149.7" r="1.32"/><circle cx="237.2" cy="153.2" r="1.32"/><circle cx="247.4" cy="152.5" r="1.32"/><circle cx="257.1" cy="153.4" r="1.32"/><circle cx="243.5" cy="155.0" r="1.32"/><circle cx="245.4" cy="155.4" r="1.32"/><circle cx="251.5" cy="154.4" r="1.32"/><circle cx="228.6" cy="155.1" r="1.32"/><circle cx="229.9" cy="156.9" r="1.32"/><circle cx="261.5" cy="156.2" r="1.32"/><circle cx="265.4" cy="156.9" r="1.32"/><circle cx="196.1" cy="157.2" r="1.32"/><circle cx="200.4" cy="158.1" r="1.32"/><circle cx="240.6" cy="158.1" r="1.32"/><circle cx="248.6" cy="157.6" r="1.32"/><circle cx="253.7" cy="157.2" r="1.32"/><circle cx="255.9" cy="157.6" r="1.32"/><circle cx="270.5" cy="158.4" r="1.32"/><circle cx="223.8" cy="158.4" r="1.32"/><circle cx="195.8" cy="173.0" r="1.32"/><circle cx="241.8" cy="179.2" r="1.32"/><circle cx="212.8" cy="166.8" r="1.32"/><circle cx="197.5" cy="165.7" r="1.32"/><circle cx="189.5" cy="166.1" r="1.32"/><circle cx="304.7" cy="153.2" r="1.32"/><circle cx="309.9" cy="161.3" r="1.32"/><circle cx="314.2" cy="161.3" r="1.32"/><circle cx="315.7" cy="161.7" r="1.32"/><circle cx="331.8" cy="161.3" r="1.32"/><circle cx="204.3" cy="187.0" r="1.32"/><circle cx="193.6" cy="193.1" r="1.32"/><circle cx="98.9" cy="168.8" r="1.32"/><circle cx="100.3" cy="168.3" r="1.32"/><circle cx="99.8" cy="170.5" r="1.32"/><circle cx="108.1" cy="174.4" r="1.32"/><circle cx="109.0" cy="176.2" r="1.32"/><circle cx="106.8" cy="175.3" r="1.32"/><circle cx="110.8" cy="171.4" r="1.32"/><circle cx="113.4" cy="167.9" r="1.32"/><circle cx="116.0" cy="168.8" r="1.32"/><circle cx="118.2" cy="169.6" r="1.32"/><circle cx="120.4" cy="167.4" r="1.32"/><circle cx="123.0" cy="168.3" r="1.32"/><circle cx="116.9" cy="170.9" r="1.32"/><circle cx="119.1" cy="170.5" r="1.32"/><circle cx="128.3" cy="174.4" r="1.32"/><circle cx="129.6" cy="168.8" r="1.32"/><circle cx="131.8" cy="167.9" r="1.32"/><circle cx="133.5" cy="171.4" r="1.32"/><circle cx="136.2" cy="173.1" r="1.32"/><circle cx="144.0" cy="176.2" r="1.32"/><circle cx="147.5" cy="176.2" r="1.32"/><circle cx="151.0" cy="186.7" r="1.32"/><circle cx="101.6" cy="180.6" r="1.32"/><circle cx="108.1" cy="181.9" r="1.32"/><circle cx="108.1" cy="183.6" r="1.32"/><circle cx="114.3" cy="185.4" r="1.32"/><circle cx="110.8" cy="153.8" r="1.32"/><circle cx="110.3" cy="155.9" r="1.32"/><circle cx="127.0" cy="154.6" r="1.32"/><circle cx="125.6" cy="155.9" r="1.32"/><circle cx="132.7" cy="156.4" r="1.32"/><circle cx="136.2" cy="155.9" r="1.32"/><circle cx="151.0" cy="156.4" r="1.32"/><circle cx="115.6" cy="155.5" r="1.32"/><circle cx="117.3" cy="156.4" r="1.32"/><circle cx="121.3" cy="156.8" r="1.32"/><circle cx="123.0" cy="156.4" r="1.32"/><circle cx="106.4" cy="156.8" r="1.32"/><circle cx="108.1" cy="157.3" r="1.32"/><circle cx="98.5" cy="158.1" r="1.32"/><circle cx="100.3" cy="158.0" r="1.32"/><circle cx="140.5" cy="156.4" r="1.32"/><circle cx="143.2" cy="157.3" r="1.32"/><circle cx="171.0" cy="157.7" r="1.32"/><circle cx="158.8" cy="166.5" r="1.32"/><circle cx="202.5" cy="166.0" r="1.32"/><circle cx="257.4" cy="154.5" r="1.32"/><circle cx="211.6" cy="158.8" r="1.32"/><circle cx="215.9" cy="158.8" r="1.32"/><circle cx="212.4" cy="167.9" r="1.32"/><circle cx="214.6" cy="166.9" r="1.32"/><circle cx="211.1" cy="166.9" r="1.32"/><circle cx="221.2" cy="165.6" r="1.32"/><circle cx="225.1" cy="165.3" r="1.32"/><circle cx="231.7" cy="165.6" r="1.32"/><circle cx="238.3" cy="165.0" r="1.32"/><circle cx="250.5" cy="164.7" r="1.32"/><circle cx="281.0" cy="159.0" r="1.32"/><circle cx="283.2" cy="159.0" r="1.32"/><circle cx="288.0" cy="163.4" r="1.32"/><circle cx="264.4" cy="165.1" r="1.32"/></g>
<g fill="#de2010"><circle cx="86.4" cy="176.6" r="1.32"/><circle cx="110.4" cy="145.2" r="1.32"/><circle cx="123.9" cy="147.1" r="1.32"/><circle cx="122.8" cy="178.1" r="1.32"/><circle cx="129.1" cy="178.8" r="1.32"/><circle cx="136.7" cy="178.1" r="1.32"/><circle cx="137.4" cy="180.3" r="1.32"/><circle cx="140.4" cy="182.4" r="1.32"/><circle cx="152.8" cy="178.5" r="1.32"/><circle cx="155.4" cy="179.1" r="1.32"/><circle cx="158.6" cy="181.0" r="1.32"/><circle cx="150.6" cy="181.7" r="1.32"/><circle cx="174.7" cy="178.8" r="1.32"/><circle cx="177.6" cy="181.0" r="1.32"/><circle cx="178.8" cy="182.0" r="1.32"/><circle cx="181.2" cy="183.5" r="1.32"/><circle cx="104.6" cy="181.7" r="1.32"/><circle cx="121.4" cy="182.4" r="1.32"/><circle cx="125.8" cy="183.2" r="1.32"/><circle cx="131.2" cy="182.4" r="1.32"/><circle cx="146.2" cy="184.5" r="1.32"/><circle cx="141.1" cy="185.9" r="1.32"/><circle cx="134.5" cy="185.5" r="1.32"/><circle cx="125.0" cy="184.1" r="1.32"/><circle cx="131.6" cy="187.8" r="1.32"/><circle cx="133.8" cy="190.0" r="1.32"/><circle cx="125.0" cy="190.3" r="1.32"/><circle cx="128.7" cy="191.8" r="1.32"/><circle cx="157.2" cy="184.5" r="1.32"/><circle cx="159.8" cy="184.9" r="1.32"/><circle cx="158.6" cy="187.8" r="1.32"/><circle cx="151.3" cy="187.8" r="1.32"/><circle cx="149.1" cy="189.3" r="1.32"/><circle cx="140.8" cy="194.7" r="1.32"/><circle cx="144.3" cy="193.7" r="1.32"/><circle cx="132.3" cy="197.2" r="1.32"/><circle cx="129.1" cy="198.4" r="1.32"/><circle cx="125.8" cy="196.6" r="1.32"/><circle cx="125.0" cy="193.2" r="1.32"/><circle cx="173.9" cy="193.2" r="1.32"/><circle cx="165.6" cy="197.6" r="1.32"/><circle cx="154.2" cy="199.1" r="1.32"/><circle cx="155.0" cy="202.0" r="1.32"/><circle cx="157.2" cy="202.4" r="1.32"/><circle cx="166.6" cy="202.0" r="1.32"/><circle cx="173.9" cy="199.1" r="1.32"/><circle cx="174.4" cy="203.9" r="1.32"/><circle cx="180.8" cy="201.7" r="1.32"/><circle cx="185.6" cy="206.1" r="1.32"/><circle cx="176.4" cy="207.1" r="1.32"/><circle cx="137.4" cy="204.2" r="1.32"/><circle cx="138.9" cy="205.4" r="1.32"/><circle cx="142.6" cy="203.5" r="1.32"/><circle cx="142.3" cy="206.4" r="1.32"/><circle cx="149.1" cy="204.2" r="1.32"/><circle cx="152.8" cy="203.9" r="1.32"/><circle cx="149.6" cy="206.8" r="1.32"/><circle cx="157.9" cy="206.8" r="1.32"/><circle cx="157.4" cy="208.9" r="1.32"/><circle cx="147.7" cy="210.3" r="1.32"/><circle cx="136.7" cy="209.3" r="1.32"/><circle cx="128.2" cy="207.8" r="1.32"/><circle cx="130.1" cy="204.2" r="1.32"/><circle cx="126.8" cy="202.0" r="1.32"/><circle cx="123.9" cy="201.3" r="1.32"/><circle cx="120.7" cy="205.9" r="1.32"/><circle cx="117.7" cy="205.9" r="1.32"/><circle cx="114.1" cy="201.7" r="1.32"/><circle cx="111.9" cy="204.9" r="1.32"/><circle cx="113.1" cy="208.9" r="1.32"/><circle cx="111.2" cy="209.7" r="1.32"/><circle cx="106.1" cy="208.9" r="1.32"/><circle cx="107.5" cy="204.2" r="1.32"/><circle cx="103.1" cy="203.5" r="1.32"/><circle cx="100.2" cy="202.0" r="1.32"/><circle cx="97.6" cy="200.5" r="1.32"/><circle cx="96.1" cy="202.0" r="1.32"/><circle cx="95.8" cy="205.7" r="1.32"/><circle cx="96.6" cy="207.8" r="1.32"/><circle cx="95.5" cy="209.7" r="1.32"/><circle cx="97.6" cy="210.0" r="1.32"/><circle cx="91.8" cy="215.1" r="1.32"/><circle cx="95.1" cy="215.6" r="1.32"/><circle cx="95.1" cy="213.2" r="1.32"/><circle cx="104.6" cy="214.7" r="1.32"/><circle cx="116.0" cy="213.2" r="1.32"/><circle cx="120.7" cy="215.1" r="1.32"/><circle cx="125.0" cy="211.8" r="1.32"/><circle cx="133.8" cy="213.2" r="1.32"/><circle cx="135.3" cy="214.7" r="1.32"/><circle cx="153.5" cy="213.2" r="1.32"/><circle cx="164.5" cy="212.7" r="1.32"/><circle cx="185.6" cy="210.8" r="1.32"/><circle cx="183.4" cy="215.9" r="1.32"/><circle cx="97.3" cy="189.6" r="1.32"/><circle cx="98.0" cy="193.2" r="1.32"/><circle cx="100.9" cy="187.8" r="1.32"/><circle cx="102.4" cy="196.9" r="1.32"/><circle cx="114.8" cy="185.9" r="1.32"/><circle cx="119.2" cy="188.1" r="1.32"/><circle cx="121.4" cy="190.3" r="1.32"/><circle cx="124.3" cy="191.1" r="1.32"/><circle cx="116.3" cy="192.5" r="1.32"/><circle cx="117.7" cy="194.0" r="1.32"/><circle cx="114.1" cy="198.4" r="1.32"/><circle cx="110.4" cy="199.8" r="1.32"/><circle cx="98.8" cy="222.6" r="1.32"/><circle cx="118.0" cy="219.7" r="1.32"/><circle cx="126.2" cy="220.4" r="1.32"/><circle cx="137.6" cy="218.8" r="1.32"/><circle cx="148.1" cy="217.0" r="1.32"/><circle cx="152.8" cy="219.1" r="1.32"/><circle cx="157.4" cy="221.7" r="1.32"/><circle cx="163.0" cy="218.2" r="1.32"/><circle cx="162.7" cy="222.3" r="1.32"/><circle cx="168.5" cy="222.3" r="1.32"/><circle cx="163.4" cy="225.7" r="1.32"/><circle cx="151.9" cy="226.1" r="1.32"/><circle cx="127.2" cy="228.4" r="1.32"/><circle cx="134.7" cy="229.0" r="1.32"/><circle cx="136.9" cy="232.4" r="1.32"/><circle cx="126.4" cy="235.3" r="1.32"/><circle cx="149.9" cy="233.2" r="1.32"/><circle cx="151.6" cy="237.3" r="1.32"/><circle cx="181.7" cy="234.0" r="1.32"/><circle cx="105.3" cy="237.8" r="1.32"/><circle cx="109.7" cy="238.8" r="1.32"/><circle cx="108.2" cy="240.8" r="1.32"/><circle cx="108.0" cy="248.4" r="1.32"/><circle cx="150.0" cy="247.0" r="1.32"/><circle cx="140.5" cy="254.0" r="1.32"/><circle cx="156.6" cy="259.7" r="1.32"/><circle cx="177.3" cy="182.0" r="1.32"/><circle cx="178.5" cy="180.8" r="1.32"/><circle cx="192.5" cy="212.1" r="1.32"/><circle cx="200.9" cy="191.6" r="1.32"/><circle cx="121.7" cy="178.8" r="1.32"/><circle cx="149.7" cy="182.3" r="1.32"/><circle cx="146.7" cy="183.6" r="1.32"/><circle cx="135.7" cy="185.8" r="1.32"/><circle cx="123.9" cy="184.1" r="1.32"/><circle cx="118.6" cy="183.2" r="1.32"/><circle cx="116.0" cy="180.6" r="1.32"/><circle cx="103.8" cy="178.8" r="1.32"/><circle cx="105.5" cy="183.2" r="1.32"/><circle cx="103.8" cy="184.5" r="1.32"/><circle cx="106.4" cy="185.4" r="1.32"/><circle cx="104.2" cy="186.3" r="1.32"/><circle cx="109.4" cy="183.2" r="1.32"/><circle cx="110.3" cy="185.0" r="1.32"/><circle cx="121.3" cy="188.0" r="1.32"/><circle cx="117.8" cy="186.3" r="1.32"/><circle cx="107.3" cy="192.1" r="1.32"/><circle cx="107.4" cy="187.9" r="1.32"/><circle cx="105.4" cy="188.4" r="1.32"/><circle cx="111.1" cy="191.6" r="1.32"/><circle cx="110.9" cy="190.7" r="1.32"/><circle cx="109.1" cy="190.4" r="1.32"/><circle cx="103.3" cy="193.8" r="1.32"/><circle cx="109.4" cy="192.0" r="1.32"/><circle cx="103.3" cy="180.8" r="1.32"/><circle cx="105.5" cy="187.2" r="1.32"/><circle cx="108.9" cy="189.3" r="1.32"/><circle cx="109.5" cy="186.3" r="1.32"/><circle cx="108.9" cy="191.5" r="1.32"/><circle cx="106.1" cy="198.1" r="1.32"/><circle cx="109.6" cy="195.5" r="1.32"/><circle cx="106.3" cy="185.8" r="1.32"/><circle cx="107.0" cy="189.0" r="1.32"/><circle cx="109.8" cy="190.7" r="1.32"/><circle cx="106.7" cy="184.7" r="1.32"/><circle cx="106.5" cy="195.6" r="1.32"/><circle cx="105.7" cy="190.7" r="1.32"/><circle cx="109.2" cy="182.1" r="1.32"/><circle cx="108.1" cy="196.0" r="1.32"/><circle cx="102.4" cy="187.9" r="1.32"/><circle cx="107.7" cy="185.4" r="1.32"/><circle cx="109.4" cy="189.2" r="1.32"/><circle cx="103.9" cy="193.6" r="1.32"/><circle cx="109.9" cy="194.2" r="1.32"/><circle cx="112.0" cy="191.3" r="1.32"/><circle cx="108.3" cy="183.0" r="1.32"/><circle cx="109.7" cy="186.4" r="1.32"/><circle cx="106.7" cy="183.2" r="1.32"/><circle cx="105.3" cy="186.8" r="1.32"/></g>
<line x1="41" y1="161.85" x2="345.7" y2="161.85" stroke="#c8261c" stroke-opacity="0.82" stroke-width="1.9"/>
<path d="M41.15,6.9V316.8H345.6" fill="none" stroke="#333333" stroke-width="1.9"/>
<line x1="39.0" x2="40.3" y1="20.9" y2="20.9" stroke="#333333" stroke-width="1.8"/>
<text x="35.9" y="22.70" font-size="9.3" fill="#4d4d4d" text-anchor="end">10</text>
<line x1="39.0" x2="40.3" y1="91.4" y2="91.4" stroke="#333333" stroke-width="1.8"/>
<text x="39.1" y="93.20" font-size="9.3" fill="#4d4d4d" text-anchor="end">5</text>
<line x1="39.0" x2="40.3" y1="161.9" y2="161.9" stroke="#333333" stroke-width="1.8"/>
<text x="39.1" y="163.70" font-size="9.3" fill="#4d4d4d" text-anchor="end">0</text>
<line x1="39.0" x2="40.3" y1="232.4" y2="232.4" stroke="#333333" stroke-width="1.8"/>
<text x="35.9" y="234.20" font-size="9.3" fill="#4d4d4d" text-anchor="end">−5</text>
<line x1="39.0" x2="40.3" y1="302.9" y2="302.9" stroke="#333333" stroke-width="1.8"/>
<text x="37.5" y="304.70" font-size="9.3" fill="#4d4d4d" text-anchor="end">−10</text>
<line x1="98.7" x2="98.7" y1="317.6" y2="318.9" stroke="#333333" stroke-width="1.9"/>
<text x="98.5" y="328.6" font-size="9.3" fill="#4d4d4d" text-anchor="middle">0</text>
<line x1="187.3" x2="187.3" y1="317.6" y2="318.9" stroke="#333333" stroke-width="1.9"/>
<text x="186.95" y="328.6" font-size="9.3" fill="#4d4d4d" text-anchor="middle">5</text>
<line x1="275.9" x2="275.9" y1="317.6" y2="318.9" stroke="#333333" stroke-width="1.9"/>
<text x="276.2" y="328.6" font-size="9.3" fill="#4d4d4d" text-anchor="middle">10</text>
<text x="202.6" y="342" font-size="11.5" font-weight="bold" fill="#000" text-anchor="middle">Mean of normalized CPM (counts per million)</text>
<text transform="translate(20.0,153.1) rotate(-90)" font-size="11.5" font-weight="bold" fill="#000" text-anchor="middle">Log2 fold change PDX pipeline/Patient pipeline</text>
<text x="-0.4" y="6.7" font-size="9.3" fill="#222">a)</text>
<text x="384.2" y="6.7" font-size="9.3" fill="#222">b)</text>
<path d="M423.3,301.4C423.3,288.5 423.3,236.9 423.3,224.0C423.4,223.8 423.8,222.7 424.1,222.9C424.3,223.1 424.4,222.3 424.8,225.0C425.2,227.7 426.1,234.5 426.7,239.2C427.2,243.9 427.7,249.6 428.1,253.0C428.5,256.4 428.9,257.9 429.2,259.6C429.5,261.3 429.9,262.2 430.2,263.0C430.5,263.8 430.8,264.2 431.1,264.2C431.4,264.2 431.8,264.0 432.2,263.2C432.6,262.4 432.9,261.1 433.7,259.6C434.5,258.1 435.7,256.2 436.9,254.0C438.1,251.8 439.9,249.0 441.0,246.5C442.1,244.0 442.5,242.8 443.5,239.2C444.5,235.5 445.8,229.5 446.8,224.6C447.8,219.7 448.7,215.9 449.6,210.0C450.5,204.1 451.3,194.9 452.2,189.2C453.1,183.5 454.1,179.0 455.0,176.0C455.9,173.0 456.8,172.0 457.5,171.0C458.2,170.0 458.6,169.9 459.1,169.9C459.7,169.9 460.2,169.8 460.8,171.0C461.4,172.2 462.2,174.0 463.0,177.0C463.8,180.0 464.6,183.7 465.8,189.2C467.1,194.7 469.2,204.1 470.5,210.0C471.8,215.9 472.6,219.7 473.8,224.6C475.0,229.5 476.2,234.3 477.5,239.2C478.8,244.1 480.3,250.0 481.4,253.8C482.5,257.7 483.2,259.7 484.3,262.3C485.4,264.9 486.4,267.2 488.0,269.6C489.6,272.0 491.7,274.5 493.8,276.9C495.9,279.3 498.9,282.5 500.4,283.8C501.9,285.1 502.0,284.5 503.0,284.8C504.0,285.1 505.1,285.4 506.2,285.7C507.3,286.0 508.0,286.1 509.4,286.7C510.8,287.2 512.8,288.6 514.5,289.0C516.2,289.4 518.0,288.7 519.6,288.9C521.2,289.1 522.2,289.4 524.0,290.0C525.8,290.6 528.3,291.9 530.5,292.4C532.7,292.9 535.0,293.0 537.1,293.1C539.2,293.2 540.6,292.9 543.0,293.0C545.4,293.1 548.8,293.7 551.7,293.7C554.6,293.7 558.1,293.1 560.5,293.2C562.9,293.3 564.3,294.1 566.3,294.1C568.2,294.2 570.2,293.6 572.2,293.5C574.2,293.4 575.6,293.8 578.0,293.8C580.4,293.8 583.9,293.8 586.8,293.7C589.7,293.6 592.5,293.5 595.5,293.4C598.5,293.2 601.9,293.0 605.0,292.8C608.1,292.6 610.2,292.7 614.2,292.4C618.2,292.1 625.1,291.5 628.8,291.2C632.4,290.9 634.0,290.5 636.1,290.3C638.2,290.1 639.7,290.3 641.2,290.2C642.7,290.1 643.9,289.4 644.9,289.5C645.9,289.6 646.3,289.9 647.0,290.5C647.7,291.1 648.8,292.5 649.2,293.2C649.7,293.9 649.6,294.4 649.7,294.6" fill="none" stroke="#F8766D" stroke-width="1.3" stroke-linejoin="round"/>
<path d="M423.3,301.4C426.3,301.4 438.3,301.2 441.3,301.2C441.9,301.1 443.8,300.9 445.0,300.6C446.2,300.3 446.8,300.2 448.6,299.2C450.4,298.2 453.5,296.0 455.9,294.4C458.3,292.8 461.3,290.7 463.2,289.7C465.1,288.7 466.1,288.5 467.5,288.2C468.9,287.9 470.5,287.7 471.9,287.8C473.3,287.9 474.5,288.1 476.0,288.6C477.5,289.1 478.7,289.8 480.7,290.8C482.7,291.8 485.3,293.3 488.0,294.4C490.7,295.5 494.1,296.9 496.8,297.6C499.5,298.3 501.4,298.4 504.0,298.5C506.6,298.6 509.4,298.3 512.3,298.1C515.1,297.9 517.9,297.6 521.1,297.3C524.3,297.0 528.1,296.4 531.3,296.2C534.4,296.0 537.1,296.2 540.0,296.2C542.9,296.2 546.6,296.5 548.8,296.3C551.0,296.1 551.5,295.7 553.2,295.1C554.9,294.5 556.8,293.9 559.0,292.7C561.2,291.5 564.1,289.3 566.3,287.8C568.5,286.3 570.2,284.7 572.2,283.5C574.2,282.3 575.8,281.3 578.0,280.5C580.2,279.7 583.1,279.4 585.3,278.5C587.5,277.6 588.9,277.0 591.1,275.4C593.3,273.8 595.8,271.2 598.4,268.9C601.0,266.6 604.5,263.9 606.9,261.6C609.3,259.3 610.9,257.8 612.7,255.2C614.5,252.6 616.3,249.2 617.8,245.9C619.3,242.7 620.4,239.6 621.5,235.7C622.6,231.8 623.7,226.4 624.7,222.5C625.7,218.6 626.6,215.2 627.3,212.3C628.0,209.4 628.3,207.9 628.8,205.0C629.3,202.1 629.8,199.0 630.4,194.8C631.0,190.6 631.6,184.6 632.4,179.6C633.2,174.6 634.5,168.4 635.2,165.0C635.9,161.6 636.2,162.1 636.8,159.2C637.4,156.3 638.4,150.1 639.0,147.6C639.6,145.1 639.8,145.1 640.3,144.3C640.8,143.6 641.4,143.1 641.9,143.1C642.4,143.1 643.0,143.6 643.5,144.3C644.0,145.1 644.3,145.1 644.9,147.6C645.4,150.1 646.5,156.3 647.0,159.2C647.5,162.1 647.4,161.8 647.9,165.0C648.4,168.2 649.5,175.6 649.8,178.1C650.1,180.6 649.9,179.7 649.9,180.0C649.9,200.2 649.9,281.2 649.9,301.4C612.1,301.4 461.1,301.4 423.3,301.4" fill="none" stroke="#6e91d4" stroke-width="1.3" stroke-linejoin="round"/>
<path d="M415.1,6.9V314.7H685" fill="none" stroke="#333333" stroke-width="1.9"/>
<text x="409.9" y="73.0" font-size="9.5" fill="#4d4d4d" text-anchor="end">7.5</text>
<text x="409.9" y="149.9" font-size="9.5" fill="#4d4d4d" text-anchor="end">5.0</text>
<text x="409.9" y="226.9" font-size="9.5" fill="#4d4d4d" text-anchor="end">2.5</text>
<text x="409.9" y="303.6" font-size="9.5" fill="#4d4d4d" text-anchor="end">0.0</text>
<text x="423.90000000000003" y="326" font-size="9.5" fill="#4d4d4d" text-anchor="middle">0.00</text>
<text x="480.6" y="326" font-size="9.5" fill="#4d4d4d" text-anchor="middle">0.25</text>
<text x="537.2" y="326" font-size="9.5" fill="#4d4d4d" text-anchor="middle">0.50</text>
<text x="593.9" y="326" font-size="9.5" fill="#4d4d4d" text-anchor="middle">0.75</text>
<text x="650.5" y="326" font-size="9.5" fill="#4d4d4d" text-anchor="middle">1.00</text>
<text x="544.6" y="341.2" font-size="11.8" font-weight="bold" fill="#000" text-anchor="middle">phast score</text>
<text transform="translate(388.8,159.2) rotate(-90)" font-size="11.7" font-weight="bold" fill="#000" text-anchor="middle">density</text>
<line x1="579.3" x2="596.6" y1="103.65" y2="103.65" stroke="#F8766D" stroke-width="1.3"/>
<line x1="579.3" x2="596.6" y1="118.4" y2="118.4" stroke="#6e91d4" stroke-width="1.3"/>
<text x="601.2" y="107.2" font-size="9.25" fill="#111">all genes</text>
<text x="601.2" y="119.9" font-size="9.25" fill="#111">pipeline DEGs</text>
</svg>
</body></html>
